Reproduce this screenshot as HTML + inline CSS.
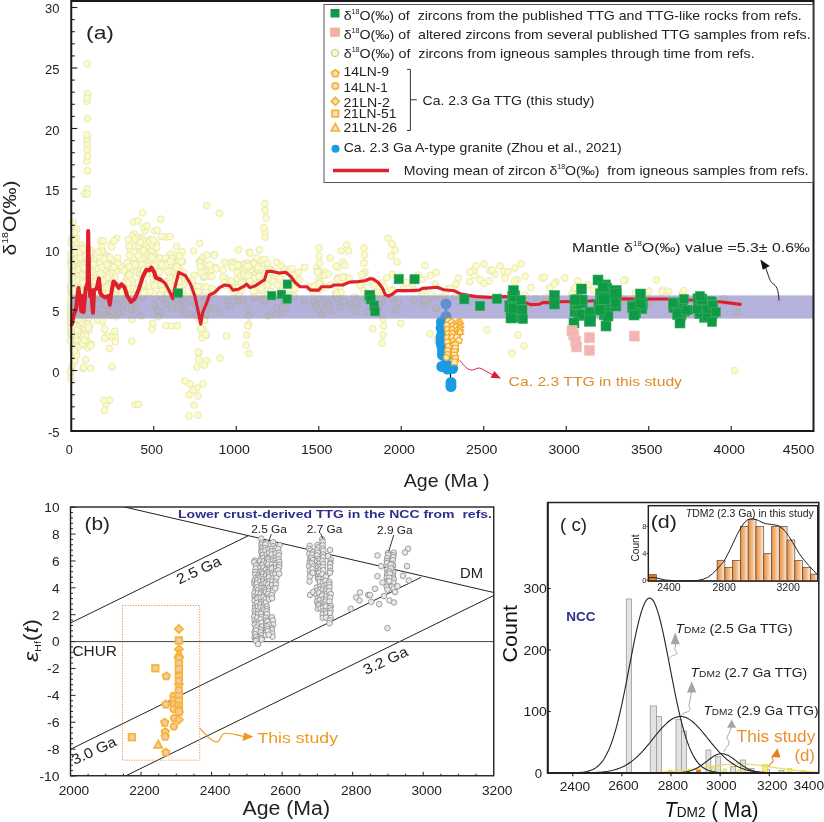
<!DOCTYPE html>
<html><head><meta charset="utf-8"><title>Figure</title>
<style>
html,body{margin:0;padding:0;background:#fff;}
body{width:824px;height:822px;overflow:hidden;font-family:"Liberation Sans", sans-serif;}
svg{display:block;font-family:"Liberation Sans", sans-serif;}
.mul{mix-blend-mode:multiply;}
</style></head><body>
<svg width="824" height="822" viewBox="0 0 824 822">
<rect width="824" height="822" fill="#fff"/>
<g fill="#fdfcc2" stroke="#dedeb8" stroke-width="0.7">
<circle cx="198.9" cy="352.7" r="3.4"/><circle cx="183.3" cy="284.7" r="3.4"/><circle cx="104.7" cy="270.1" r="3.4"/><circle cx="258.3" cy="271.4" r="3.4"/><circle cx="316.8" cy="268.2" r="3.4"/><circle cx="271.1" cy="269.5" r="3.4"/><circle cx="82.4" cy="299.1" r="3.4"/><circle cx="133.3" cy="222.1" r="3.4"/><circle cx="337.2" cy="278.3" r="3.4"/><circle cx="105.1" cy="277.6" r="3.4"/><circle cx="76.0" cy="260.9" r="3.4"/><circle cx="89.7" cy="297.7" r="3.4"/><circle cx="76.0" cy="269.7" r="3.4"/><circle cx="117.9" cy="270.4" r="3.4"/><circle cx="90.8" cy="313.6" r="3.4"/><circle cx="445.0" cy="293.2" r="3.4"/><circle cx="263.3" cy="284.7" r="3.4"/><circle cx="73.0" cy="254.6" r="3.4"/><circle cx="103.0" cy="291.2" r="3.4"/><circle cx="156.2" cy="243.5" r="3.4"/><circle cx="393.0" cy="289.7" r="3.4"/><circle cx="138.6" cy="247.8" r="3.4"/><circle cx="78.0" cy="290.3" r="3.4"/><circle cx="102.6" cy="321.6" r="3.4"/><circle cx="78.3" cy="304.6" r="3.4"/><circle cx="206.4" cy="305.9" r="3.4"/><circle cx="171.6" cy="295.8" r="3.4"/><circle cx="240.5" cy="279.7" r="3.4"/><circle cx="255.5" cy="264.7" r="3.4"/><circle cx="71.4" cy="264.4" r="3.4"/><circle cx="549.2" cy="298.0" r="3.4"/><circle cx="436.2" cy="308.8" r="3.4"/><circle cx="340.0" cy="277.8" r="3.4"/><circle cx="282.3" cy="306.9" r="3.4"/><circle cx="111.6" cy="281.6" r="3.4"/><circle cx="700.1" cy="296.4" r="3.4"/><circle cx="197.5" cy="317.2" r="3.4"/><circle cx="88.2" cy="310.9" r="3.4"/><circle cx="123.6" cy="304.0" r="3.4"/><circle cx="710.6" cy="300.7" r="3.4"/><circle cx="132.9" cy="282.2" r="3.4"/><circle cx="71.7" cy="238.8" r="3.4"/><circle cx="423.2" cy="305.1" r="3.4"/><circle cx="318.5" cy="280.0" r="3.4"/><circle cx="263.5" cy="263.5" r="3.4"/><circle cx="72.7" cy="303.3" r="3.4"/><circle cx="79.9" cy="316.6" r="3.4"/><circle cx="72.9" cy="332.1" r="3.4"/><circle cx="734.7" cy="370.5" r="3.4"/><circle cx="214.4" cy="254.6" r="3.4"/><circle cx="76.4" cy="299.3" r="3.4"/><circle cx="146.4" cy="263.6" r="3.4"/><circle cx="154.5" cy="304.6" r="3.4"/><circle cx="319.0" cy="256.0" r="3.4"/><circle cx="97.3" cy="297.0" r="3.4"/><circle cx="101.2" cy="254.1" r="3.4"/><circle cx="266.1" cy="271.0" r="3.4"/><circle cx="517.1" cy="279.6" r="3.4"/><circle cx="87.0" cy="101.2" r="3.4"/><circle cx="71.3" cy="262.9" r="3.4"/><circle cx="86.5" cy="278.4" r="3.4"/><circle cx="340.3" cy="286.3" r="3.4"/><circle cx="268.0" cy="316.1" r="3.4"/><circle cx="70.7" cy="333.3" r="3.4"/><circle cx="261.4" cy="278.6" r="3.4"/><circle cx="244.1" cy="276.0" r="3.4"/><circle cx="107.7" cy="263.8" r="3.4"/><circle cx="541.9" cy="278.1" r="3.4"/><circle cx="556.0" cy="282.0" r="3.4"/><circle cx="265.0" cy="232.2" r="3.4"/><circle cx="78.2" cy="321.5" r="3.4"/><circle cx="254.4" cy="261.8" r="3.4"/><circle cx="75.7" cy="277.8" r="3.4"/><circle cx="131.6" cy="305.0" r="3.4"/><circle cx="175.5" cy="273.4" r="3.4"/><circle cx="326.2" cy="305.6" r="3.4"/><circle cx="115.2" cy="337.3" r="3.4"/><circle cx="79.6" cy="283.3" r="3.4"/><circle cx="204.1" cy="273.4" r="3.4"/><circle cx="88.1" cy="257.9" r="3.4"/><circle cx="215.5" cy="267.5" r="3.4"/><circle cx="84.5" cy="291.5" r="3.4"/><circle cx="331.0" cy="310.5" r="3.4"/><circle cx="259.9" cy="277.9" r="3.4"/><circle cx="248.3" cy="276.3" r="3.4"/><circle cx="71.3" cy="286.8" r="3.4"/><circle cx="588.0" cy="284.8" r="3.4"/><circle cx="183.0" cy="304.1" r="3.4"/><circle cx="71.2" cy="290.0" r="3.4"/><circle cx="715.8" cy="303.9" r="3.4"/><circle cx="72.6" cy="279.6" r="3.4"/><circle cx="100.7" cy="240.7" r="3.4"/><circle cx="515.0" cy="268.0" r="3.4"/><circle cx="242.7" cy="284.1" r="3.4"/><circle cx="194.0" cy="275.3" r="3.4"/><circle cx="114.8" cy="277.2" r="3.4"/><circle cx="225.9" cy="278.6" r="3.4"/><circle cx="80.2" cy="324.9" r="3.4"/><circle cx="152.0" cy="329.0" r="3.4"/><circle cx="87.3" cy="138.0" r="3.4"/><circle cx="71.4" cy="315.1" r="3.4"/><circle cx="75.1" cy="318.2" r="3.4"/><circle cx="92.3" cy="285.9" r="3.4"/><circle cx="100.0" cy="260.2" r="3.4"/><circle cx="97.8" cy="295.9" r="3.4"/><circle cx="72.5" cy="275.7" r="3.4"/><circle cx="364.0" cy="282.0" r="3.4"/><circle cx="172.9" cy="277.8" r="3.4"/><circle cx="371.9" cy="298.1" r="3.4"/><circle cx="283.7" cy="268.3" r="3.4"/><circle cx="84.7" cy="285.9" r="3.4"/><circle cx="213.5" cy="308.2" r="3.4"/><circle cx="111.8" cy="279.7" r="3.4"/><circle cx="78.9" cy="275.8" r="3.4"/><circle cx="72.1" cy="307.7" r="3.4"/><circle cx="149.3" cy="258.9" r="3.4"/><circle cx="72.1" cy="342.7" r="3.4"/><circle cx="338.2" cy="267.5" r="3.4"/><circle cx="88.6" cy="290.3" r="3.4"/><circle cx="182.3" cy="309.6" r="3.4"/><circle cx="111.2" cy="311.7" r="3.4"/><circle cx="125.6" cy="281.2" r="3.4"/><circle cx="141.7" cy="237.5" r="3.4"/><circle cx="133.3" cy="270.4" r="3.4"/><circle cx="500.0" cy="266.0" r="3.4"/><circle cx="83.9" cy="297.5" r="3.4"/><circle cx="90.3" cy="270.2" r="3.4"/><circle cx="72.8" cy="313.6" r="3.4"/><circle cx="77.1" cy="300.2" r="3.4"/><circle cx="200.2" cy="318.1" r="3.4"/><circle cx="73.0" cy="322.6" r="3.4"/><circle cx="364.0" cy="263.0" r="3.4"/><circle cx="234.3" cy="286.9" r="3.4"/><circle cx="249.0" cy="353.5" r="3.4"/><circle cx="203.2" cy="266.3" r="3.4"/><circle cx="341.0" cy="251.0" r="3.4"/><circle cx="324.2" cy="272.1" r="3.4"/><circle cx="248.7" cy="316.0" r="3.4"/><circle cx="262.2" cy="290.2" r="3.4"/><circle cx="622.5" cy="299.1" r="3.4"/><circle cx="84.5" cy="194.0" r="3.4"/><circle cx="149.7" cy="239.5" r="3.4"/><circle cx="248.7" cy="324.0" r="3.4"/><circle cx="83.7" cy="303.6" r="3.4"/><circle cx="495.0" cy="274.1" r="3.4"/><circle cx="128.3" cy="267.8" r="3.4"/><circle cx="304.0" cy="301.0" r="3.4"/><circle cx="204.7" cy="302.9" r="3.4"/><circle cx="593.2" cy="290.4" r="3.4"/><circle cx="244.8" cy="284.5" r="3.4"/><circle cx="73.9" cy="278.1" r="3.4"/><circle cx="90.8" cy="285.8" r="3.4"/><circle cx="474.8" cy="275.6" r="3.4"/><circle cx="92.6" cy="270.7" r="3.4"/><circle cx="203.6" cy="329.5" r="3.4"/><circle cx="137.6" cy="264.7" r="3.4"/><circle cx="70.9" cy="329.2" r="3.4"/><circle cx="72.6" cy="241.0" r="3.4"/><circle cx="618.9" cy="301.0" r="3.4"/><circle cx="103.3" cy="284.0" r="3.4"/><circle cx="128.9" cy="298.1" r="3.4"/><circle cx="206.8" cy="205.8" r="3.4"/><circle cx="79.7" cy="275.9" r="3.4"/><circle cx="70.9" cy="291.2" r="3.4"/><circle cx="195.8" cy="286.1" r="3.4"/><circle cx="72.0" cy="330.1" r="3.4"/><circle cx="294.3" cy="296.9" r="3.4"/><circle cx="91.0" cy="250.5" r="3.4"/><circle cx="83.8" cy="304.8" r="3.4"/><circle cx="133.8" cy="233.6" r="3.4"/><circle cx="100.7" cy="262.6" r="3.4"/><circle cx="192.4" cy="280.3" r="3.4"/><circle cx="108.8" cy="272.8" r="3.4"/><circle cx="211.5" cy="269.7" r="3.4"/><circle cx="82.1" cy="309.7" r="3.4"/><circle cx="114.8" cy="331.2" r="3.4"/><circle cx="109.4" cy="288.3" r="3.4"/><circle cx="178.8" cy="260.2" r="3.4"/><circle cx="77.0" cy="294.8" r="3.4"/><circle cx="253.0" cy="277.1" r="3.4"/><circle cx="203.0" cy="384.0" r="3.4"/><circle cx="223.0" cy="270.1" r="3.4"/><circle cx="109.2" cy="288.1" r="3.4"/><circle cx="87.3" cy="188.8" r="3.4"/><circle cx="154.8" cy="230.9" r="3.4"/><circle cx="430.4" cy="275.3" r="3.4"/><circle cx="108.5" cy="310.2" r="3.4"/><circle cx="365.0" cy="272.0" r="3.4"/><circle cx="113.2" cy="284.3" r="3.4"/><circle cx="222.8" cy="277.4" r="3.4"/><circle cx="87.5" cy="322.9" r="3.4"/><circle cx="171.7" cy="308.8" r="3.4"/><circle cx="111.3" cy="269.3" r="3.4"/><circle cx="79.1" cy="277.3" r="3.4"/><circle cx="197.4" cy="291.4" r="3.4"/><circle cx="74.3" cy="249.5" r="3.4"/><circle cx="102.7" cy="271.0" r="3.4"/><circle cx="149.0" cy="268.8" r="3.4"/><circle cx="199.6" cy="243.4" r="3.4"/><circle cx="76.8" cy="258.7" r="3.4"/><circle cx="199.3" cy="290.7" r="3.4"/><circle cx="235.5" cy="281.0" r="3.4"/><circle cx="266.0" cy="218.0" r="3.4"/><circle cx="73.2" cy="320.4" r="3.4"/><circle cx="97.4" cy="291.7" r="3.4"/><circle cx="77.2" cy="347.0" r="3.4"/><circle cx="162.8" cy="286.0" r="3.4"/><circle cx="135.0" cy="265.4" r="3.4"/><circle cx="73.4" cy="326.4" r="3.4"/><circle cx="226.9" cy="300.7" r="3.4"/><circle cx="72.8" cy="287.8" r="3.4"/><circle cx="115.1" cy="302.0" r="3.4"/><circle cx="135.0" cy="295.2" r="3.4"/><circle cx="88.1" cy="295.3" r="3.4"/><circle cx="78.4" cy="320.5" r="3.4"/><circle cx="205.7" cy="335.3" r="3.4"/><circle cx="87.7" cy="296.7" r="3.4"/><circle cx="79.3" cy="302.7" r="3.4"/><circle cx="237.8" cy="266.3" r="3.4"/><circle cx="131.8" cy="319.3" r="3.4"/><circle cx="72.9" cy="274.4" r="3.4"/><circle cx="269.4" cy="278.2" r="3.4"/><circle cx="204.0" cy="295.5" r="3.4"/><circle cx="152.9" cy="265.3" r="3.4"/><circle cx="153.2" cy="293.1" r="3.4"/><circle cx="266.2" cy="298.2" r="3.4"/><circle cx="320.6" cy="284.5" r="3.4"/><circle cx="88.8" cy="330.3" r="3.4"/><circle cx="247.7" cy="326.0" r="3.4"/><circle cx="71.0" cy="260.7" r="3.4"/><circle cx="123.2" cy="311.5" r="3.4"/><circle cx="88.2" cy="287.4" r="3.4"/><circle cx="181.2" cy="260.6" r="3.4"/><circle cx="78.7" cy="344.3" r="3.4"/><circle cx="76.5" cy="329.0" r="3.4"/><circle cx="100.7" cy="288.2" r="3.4"/><circle cx="361.1" cy="286.2" r="3.4"/><circle cx="182.8" cy="301.4" r="3.4"/><circle cx="514.5" cy="281.3" r="3.4"/><circle cx="99.3" cy="282.5" r="3.4"/><circle cx="107.9" cy="256.1" r="3.4"/><circle cx="89.1" cy="275.5" r="3.4"/><circle cx="70.9" cy="317.0" r="3.4"/><circle cx="256.1" cy="272.6" r="3.4"/><circle cx="225.7" cy="285.7" r="3.4"/><circle cx="75.2" cy="318.4" r="3.4"/><circle cx="319.0" cy="248.0" r="3.4"/><circle cx="72.7" cy="278.2" r="3.4"/><circle cx="72.3" cy="296.2" r="3.4"/><circle cx="157.9" cy="276.1" r="3.4"/><circle cx="104.5" cy="329.0" r="3.4"/><circle cx="82.0" cy="301.5" r="3.4"/><circle cx="157.0" cy="230.1" r="3.4"/><circle cx="378.6" cy="311.2" r="3.4"/><circle cx="74.3" cy="338.6" r="3.4"/><circle cx="121.7" cy="268.2" r="3.4"/><circle cx="203.6" cy="277.3" r="3.4"/><circle cx="73.2" cy="310.3" r="3.4"/><circle cx="136.7" cy="272.5" r="3.4"/><circle cx="100.6" cy="297.6" r="3.4"/><circle cx="344.7" cy="276.9" r="3.4"/><circle cx="104.5" cy="410.5" r="3.4"/><circle cx="167.9" cy="283.0" r="3.4"/><circle cx="198.0" cy="352.2" r="3.4"/><circle cx="179.5" cy="268.1" r="3.4"/><circle cx="171.4" cy="283.3" r="3.4"/><circle cx="155.8" cy="256.7" r="3.4"/><circle cx="265.0" cy="210.7" r="3.4"/><circle cx="71.0" cy="292.7" r="3.4"/><circle cx="383.0" cy="335.0" r="3.4"/><circle cx="132.3" cy="236.2" r="3.4"/><circle cx="170.8" cy="286.1" r="3.4"/><circle cx="147.5" cy="268.6" r="3.4"/><circle cx="646.1" cy="296.3" r="3.4"/><circle cx="76.9" cy="250.7" r="3.4"/><circle cx="79.8" cy="332.2" r="3.4"/><circle cx="84.2" cy="291.3" r="3.4"/><circle cx="279.5" cy="313.5" r="3.4"/><circle cx="87.0" cy="141.2" r="3.4"/><circle cx="282.8" cy="300.5" r="3.4"/><circle cx="200.8" cy="320.4" r="3.4"/><circle cx="134.3" cy="246.0" r="3.4"/><circle cx="92.0" cy="304.8" r="3.4"/><circle cx="723.5" cy="298.5" r="3.4"/><circle cx="141.6" cy="274.4" r="3.4"/><circle cx="116.1" cy="271.1" r="3.4"/><circle cx="237.9" cy="264.6" r="3.4"/><circle cx="480.2" cy="279.8" r="3.4"/><circle cx="573.4" cy="289.6" r="3.4"/><circle cx="264.5" cy="300.6" r="3.4"/><circle cx="92.0" cy="288.6" r="3.4"/><circle cx="84.5" cy="332.0" r="3.4"/><circle cx="141.6" cy="291.5" r="3.4"/><circle cx="346.2" cy="281.3" r="3.4"/><circle cx="114.5" cy="293.6" r="3.4"/><circle cx="518.0" cy="335.0" r="3.4"/><circle cx="313.7" cy="301.4" r="3.4"/><circle cx="295.2" cy="275.0" r="3.4"/><circle cx="149.3" cy="253.8" r="3.4"/><circle cx="74.2" cy="311.6" r="3.4"/><circle cx="209.0" cy="276.4" r="3.4"/><circle cx="72.7" cy="340.2" r="3.4"/><circle cx="81.3" cy="260.0" r="3.4"/><circle cx="388.0" cy="238.5" r="3.4"/><circle cx="91.4" cy="305.8" r="3.4"/><circle cx="139.7" cy="253.2" r="3.4"/><circle cx="91.2" cy="262.8" r="3.4"/><circle cx="89.0" cy="275.5" r="3.4"/><circle cx="166.0" cy="237.0" r="3.4"/><circle cx="242.7" cy="300.7" r="3.4"/><circle cx="74.7" cy="346.6" r="3.4"/><circle cx="239.5" cy="280.4" r="3.4"/><circle cx="233.5" cy="262.2" r="3.4"/><circle cx="319.0" cy="299.0" r="3.4"/><circle cx="203.2" cy="276.5" r="3.4"/><circle cx="75.2" cy="315.7" r="3.4"/><circle cx="170.0" cy="236.5" r="3.4"/><circle cx="111.2" cy="272.4" r="3.4"/><circle cx="363.7" cy="274.0" r="3.4"/><circle cx="87.6" cy="93.8" r="3.4"/><circle cx="78.1" cy="341.0" r="3.4"/><circle cx="160.0" cy="258.1" r="3.4"/><circle cx="224.2" cy="282.7" r="3.4"/><circle cx="78.5" cy="320.9" r="3.4"/><circle cx="114.8" cy="300.5" r="3.4"/><circle cx="93.1" cy="295.8" r="3.4"/><circle cx="129.3" cy="289.6" r="3.4"/><circle cx="185.8" cy="313.2" r="3.4"/><circle cx="106.9" cy="295.1" r="3.4"/><circle cx="165.9" cy="303.9" r="3.4"/><circle cx="257.5" cy="279.5" r="3.4"/><circle cx="140.7" cy="262.6" r="3.4"/><circle cx="413.6" cy="300.4" r="3.4"/><circle cx="344.0" cy="300.8" r="3.4"/><circle cx="279.2" cy="277.6" r="3.4"/><circle cx="142.8" cy="282.3" r="3.4"/><circle cx="139.7" cy="273.9" r="3.4"/><circle cx="73.5" cy="264.3" r="3.4"/><circle cx="85.6" cy="275.5" r="3.4"/><circle cx="76.8" cy="320.4" r="3.4"/><circle cx="80.5" cy="324.5" r="3.4"/><circle cx="197.0" cy="289.8" r="3.4"/><circle cx="142.5" cy="255.5" r="3.4"/><circle cx="395.0" cy="250.0" r="3.4"/><circle cx="335.4" cy="297.5" r="3.4"/><circle cx="649.2" cy="302.8" r="3.4"/><circle cx="284.3" cy="303.8" r="3.4"/><circle cx="341.0" cy="292.6" r="3.4"/><circle cx="149.1" cy="266.6" r="3.4"/><circle cx="239.3" cy="287.3" r="3.4"/><circle cx="116.1" cy="263.9" r="3.4"/><circle cx="315.8" cy="305.9" r="3.4"/><circle cx="253.6" cy="277.7" r="3.4"/><circle cx="94.6" cy="288.8" r="3.4"/><circle cx="71.9" cy="305.4" r="3.4"/><circle cx="87.6" cy="118.8" r="3.4"/><circle cx="91.9" cy="281.9" r="3.4"/><circle cx="70.8" cy="316.9" r="3.4"/><circle cx="228.9" cy="305.6" r="3.4"/><circle cx="73.9" cy="313.5" r="3.4"/><circle cx="75.2" cy="334.5" r="3.4"/><circle cx="265.0" cy="203.7" r="3.4"/><circle cx="424.4" cy="300.2" r="3.4"/><circle cx="103.9" cy="254.6" r="3.4"/><circle cx="521.0" cy="263.7" r="3.4"/><circle cx="206.7" cy="265.4" r="3.4"/><circle cx="209.6" cy="264.9" r="3.4"/><circle cx="237.1" cy="300.6" r="3.4"/><circle cx="124.1" cy="270.4" r="3.4"/><circle cx="133.3" cy="288.8" r="3.4"/><circle cx="139.9" cy="282.0" r="3.4"/><circle cx="74.9" cy="360.7" r="3.4"/><circle cx="212.2" cy="290.7" r="3.4"/><circle cx="248.4" cy="276.5" r="3.4"/><circle cx="120.1" cy="265.8" r="3.4"/><circle cx="77.6" cy="295.2" r="3.4"/><circle cx="194.0" cy="405.0" r="3.4"/><circle cx="240.7" cy="279.9" r="3.4"/><circle cx="232.1" cy="289.0" r="3.4"/><circle cx="87.6" cy="347.9" r="3.4"/><circle cx="87.5" cy="145.0" r="3.4"/><circle cx="260.7" cy="260.4" r="3.4"/><circle cx="80.6" cy="292.5" r="3.4"/><circle cx="142.4" cy="264.1" r="3.4"/><circle cx="144.1" cy="291.4" r="3.4"/><circle cx="90.0" cy="279.5" r="3.4"/><circle cx="72.6" cy="256.6" r="3.4"/><circle cx="249.2" cy="252.2" r="3.4"/><circle cx="128.1" cy="263.8" r="3.4"/><circle cx="166.0" cy="325.7" r="3.4"/><circle cx="271.2" cy="291.6" r="3.4"/><circle cx="74.8" cy="304.9" r="3.4"/><circle cx="80.2" cy="316.6" r="3.4"/><circle cx="198.6" cy="310.0" r="3.4"/><circle cx="249.0" cy="283.2" r="3.4"/><circle cx="392.1" cy="299.1" r="3.4"/><circle cx="436.2" cy="272.7" r="3.4"/><circle cx="70.7" cy="311.0" r="3.4"/><circle cx="73.0" cy="222.5" r="3.4"/><circle cx="625.3" cy="279.9" r="3.4"/><circle cx="73.4" cy="344.8" r="3.4"/><circle cx="89.6" cy="314.2" r="3.4"/><circle cx="179.9" cy="262.1" r="3.4"/><circle cx="95.5" cy="295.5" r="3.4"/><circle cx="172.0" cy="326.0" r="3.4"/><circle cx="253.2" cy="274.4" r="3.4"/><circle cx="72.5" cy="269.1" r="3.4"/><circle cx="201.0" cy="328.6" r="3.4"/><circle cx="257.4" cy="286.0" r="3.4"/><circle cx="89.8" cy="325.4" r="3.4"/><circle cx="77.6" cy="280.2" r="3.4"/><circle cx="622.0" cy="302.5" r="3.4"/><circle cx="76.9" cy="313.6" r="3.4"/><circle cx="76.9" cy="257.2" r="3.4"/><circle cx="257.4" cy="266.1" r="3.4"/><circle cx="170.9" cy="285.3" r="3.4"/><circle cx="153.6" cy="261.4" r="3.4"/><circle cx="137.7" cy="260.0" r="3.4"/><circle cx="525.4" cy="300.3" r="3.4"/><circle cx="551.7" cy="300.4" r="3.4"/><circle cx="89.0" cy="317.6" r="3.4"/><circle cx="623.5" cy="280.9" r="3.4"/><circle cx="273.8" cy="275.6" r="3.4"/><circle cx="108.9" cy="263.6" r="3.4"/><circle cx="117.7" cy="312.3" r="3.4"/><circle cx="93.6" cy="310.9" r="3.4"/><circle cx="346.8" cy="244.9" r="3.4"/><circle cx="656.5" cy="279.9" r="3.4"/><circle cx="93.3" cy="259.9" r="3.4"/><circle cx="182.4" cy="251.9" r="3.4"/><circle cx="113.7" cy="283.0" r="3.4"/><circle cx="242.9" cy="278.4" r="3.4"/><circle cx="75.5" cy="301.4" r="3.4"/><circle cx="110.6" cy="287.5" r="3.4"/><circle cx="220.0" cy="358.0" r="3.4"/><circle cx="178.7" cy="274.5" r="3.4"/><circle cx="77.9" cy="307.7" r="3.4"/><circle cx="129.6" cy="297.2" r="3.4"/><circle cx="325.8" cy="300.5" r="3.4"/><circle cx="682.3" cy="293.0" r="3.4"/><circle cx="79.3" cy="313.4" r="3.4"/><circle cx="91.9" cy="313.1" r="3.4"/><circle cx="233.9" cy="292.6" r="3.4"/><circle cx="246.0" cy="345.0" r="3.4"/><circle cx="75.6" cy="267.2" r="3.4"/><circle cx="187.7" cy="281.1" r="3.4"/><circle cx="110.5" cy="267.3" r="3.4"/><circle cx="90.0" cy="306.8" r="3.4"/><circle cx="89.4" cy="303.4" r="3.4"/><circle cx="383.3" cy="295.0" r="3.4"/><circle cx="72.6" cy="329.5" r="3.4"/><circle cx="89.1" cy="291.3" r="3.4"/><circle cx="412.1" cy="284.5" r="3.4"/><circle cx="206.9" cy="360.8" r="3.4"/><circle cx="82.9" cy="259.4" r="3.4"/><circle cx="109.3" cy="348.5" r="3.4"/><circle cx="177.8" cy="281.7" r="3.4"/><circle cx="422.5" cy="279.4" r="3.4"/><circle cx="248.6" cy="309.7" r="3.4"/><circle cx="76.6" cy="294.9" r="3.4"/><circle cx="79.9" cy="273.0" r="3.4"/><circle cx="175.5" cy="302.6" r="3.4"/><circle cx="544.3" cy="277.1" r="3.4"/><circle cx="109.2" cy="304.8" r="3.4"/><circle cx="77.1" cy="311.0" r="3.4"/><circle cx="88.7" cy="278.8" r="3.4"/><circle cx="73.2" cy="277.8" r="3.4"/><circle cx="505.0" cy="278.0" r="3.4"/><circle cx="577.9" cy="281.0" r="3.4"/><circle cx="77.2" cy="277.9" r="3.4"/><circle cx="73.6" cy="300.0" r="3.4"/><circle cx="156.3" cy="270.8" r="3.4"/><circle cx="489.8" cy="270.6" r="3.4"/><circle cx="72.0" cy="305.7" r="3.4"/><circle cx="72.1" cy="308.7" r="3.4"/><circle cx="177.0" cy="280.7" r="3.4"/><circle cx="364.0" cy="291.0" r="3.4"/><circle cx="207.8" cy="309.2" r="3.4"/><circle cx="395.5" cy="309.2" r="3.4"/><circle cx="458.4" cy="278.2" r="3.4"/><circle cx="111.3" cy="244.2" r="3.4"/><circle cx="161.7" cy="297.5" r="3.4"/><circle cx="77.9" cy="272.3" r="3.4"/><circle cx="183.2" cy="284.6" r="3.4"/><circle cx="82.3" cy="297.6" r="3.4"/><circle cx="104.1" cy="270.2" r="3.4"/><circle cx="78.6" cy="317.2" r="3.4"/><circle cx="79.2" cy="325.3" r="3.4"/><circle cx="76.6" cy="309.5" r="3.4"/><circle cx="73.2" cy="323.3" r="3.4"/><circle cx="216.1" cy="269.0" r="3.4"/><circle cx="392.3" cy="274.4" r="3.4"/><circle cx="126.5" cy="287.8" r="3.4"/><circle cx="79.3" cy="272.0" r="3.4"/><circle cx="78.1" cy="306.5" r="3.4"/><circle cx="146.4" cy="263.5" r="3.4"/><circle cx="175.3" cy="255.3" r="3.4"/><circle cx="73.8" cy="309.8" r="3.4"/><circle cx="205.5" cy="316.7" r="3.4"/><circle cx="70.5" cy="285.6" r="3.4"/><circle cx="202.7" cy="257.7" r="3.4"/><circle cx="87.1" cy="63.8" r="3.4"/><circle cx="140.3" cy="283.2" r="3.4"/><circle cx="72.1" cy="296.1" r="3.4"/><circle cx="238.3" cy="283.9" r="3.4"/><circle cx="71.1" cy="302.3" r="3.4"/><circle cx="106.0" cy="404.0" r="3.4"/><circle cx="91.5" cy="306.6" r="3.4"/><circle cx="94.0" cy="290.6" r="3.4"/><circle cx="91.2" cy="291.2" r="3.4"/><circle cx="75.4" cy="283.7" r="3.4"/><circle cx="87.2" cy="193.8" r="3.4"/><circle cx="106.4" cy="278.2" r="3.4"/><circle cx="267.9" cy="281.0" r="3.4"/><circle cx="135.0" cy="265.8" r="3.4"/><circle cx="167.6" cy="286.0" r="3.4"/><circle cx="76.9" cy="323.5" r="3.4"/><circle cx="73.9" cy="325.7" r="3.4"/><circle cx="126.9" cy="262.7" r="3.4"/><circle cx="253.6" cy="267.4" r="3.4"/><circle cx="76.3" cy="355.1" r="3.4"/><circle cx="255.3" cy="282.2" r="3.4"/><circle cx="82.8" cy="258.3" r="3.4"/><circle cx="143.2" cy="280.6" r="3.4"/><circle cx="74.4" cy="320.3" r="3.4"/><circle cx="319.8" cy="282.4" r="3.4"/><circle cx="392.0" cy="244.0" r="3.4"/><circle cx="82.9" cy="327.6" r="3.4"/><circle cx="110.1" cy="257.6" r="3.4"/><circle cx="139.9" cy="259.2" r="3.4"/><circle cx="83.0" cy="303.8" r="3.4"/><circle cx="78.7" cy="298.6" r="3.4"/><circle cx="638.6" cy="296.6" r="3.4"/><circle cx="199.2" cy="292.1" r="3.4"/><circle cx="83.2" cy="306.6" r="3.4"/><circle cx="92.0" cy="287.3" r="3.4"/><circle cx="524.0" cy="346.0" r="3.4"/><circle cx="83.9" cy="293.5" r="3.4"/><circle cx="87.4" cy="343.3" r="3.4"/><circle cx="173.7" cy="271.2" r="3.4"/><circle cx="83.3" cy="368.5" r="3.4"/><circle cx="381.6" cy="300.9" r="3.4"/><circle cx="108.0" cy="295.6" r="3.4"/><circle cx="110.5" cy="301.5" r="3.4"/><circle cx="100.4" cy="257.6" r="3.4"/><circle cx="71.5" cy="323.4" r="3.4"/><circle cx="116.7" cy="238.4" r="3.4"/><circle cx="89.3" cy="310.8" r="3.4"/><circle cx="455.9" cy="284.3" r="3.4"/><circle cx="86.5" cy="340.1" r="3.4"/><circle cx="205.9" cy="314.7" r="3.4"/><circle cx="406.4" cy="282.6" r="3.4"/><circle cx="262.4" cy="282.1" r="3.4"/><circle cx="487.0" cy="330.0" r="3.4"/><circle cx="110.0" cy="400.0" r="3.4"/><circle cx="77.9" cy="296.1" r="3.4"/><circle cx="350.2" cy="304.4" r="3.4"/><circle cx="104.0" cy="400.5" r="3.4"/><circle cx="76.4" cy="238.2" r="3.4"/><circle cx="214.0" cy="292.9" r="3.4"/><circle cx="76.7" cy="229.2" r="3.4"/><circle cx="199.1" cy="297.1" r="3.4"/><circle cx="250.7" cy="268.3" r="3.4"/><circle cx="147.6" cy="272.0" r="3.4"/><circle cx="84.6" cy="344.9" r="3.4"/><circle cx="99.3" cy="301.7" r="3.4"/><circle cx="133.5" cy="262.1" r="3.4"/><circle cx="372.6" cy="328.8" r="3.4"/><circle cx="93.7" cy="301.6" r="3.4"/><circle cx="115.3" cy="341.8" r="3.4"/><circle cx="82.5" cy="300.9" r="3.4"/><circle cx="338.0" cy="279.3" r="3.4"/><circle cx="91.0" cy="255.5" r="3.4"/><circle cx="336.0" cy="266.0" r="3.4"/><circle cx="94.0" cy="310.8" r="3.4"/><circle cx="180.9" cy="305.9" r="3.4"/><circle cx="123.4" cy="296.1" r="3.4"/><circle cx="267.9" cy="285.1" r="3.4"/><circle cx="128.7" cy="295.1" r="3.4"/><circle cx="428.2" cy="301.4" r="3.4"/><circle cx="323.9" cy="286.6" r="3.4"/><circle cx="138.6" cy="282.5" r="3.4"/><circle cx="73.4" cy="354.8" r="3.4"/><circle cx="247.0" cy="335.0" r="3.4"/><circle cx="175.6" cy="291.7" r="3.4"/><circle cx="125.7" cy="288.1" r="3.4"/><circle cx="92.5" cy="301.3" r="3.4"/><circle cx="135.3" cy="262.7" r="3.4"/><circle cx="117.8" cy="257.9" r="3.4"/><circle cx="204.4" cy="365.1" r="3.4"/><circle cx="72.1" cy="313.9" r="3.4"/><circle cx="73.0" cy="309.6" r="3.4"/><circle cx="370.6" cy="279.8" r="3.4"/><circle cx="84.5" cy="291.6" r="3.4"/><circle cx="145.0" cy="230.8" r="3.4"/><circle cx="166.4" cy="281.9" r="3.4"/><circle cx="87.2" cy="150.0" r="3.4"/><circle cx="73.0" cy="317.7" r="3.4"/><circle cx="139.8" cy="260.9" r="3.4"/><circle cx="76.0" cy="247.8" r="3.4"/><circle cx="250.8" cy="269.8" r="3.4"/><circle cx="73.4" cy="328.3" r="3.4"/><circle cx="109.1" cy="275.2" r="3.4"/><circle cx="142.5" cy="262.6" r="3.4"/><circle cx="181.0" cy="275.7" r="3.4"/><circle cx="73.3" cy="242.4" r="3.4"/><circle cx="258.0" cy="278.8" r="3.4"/><circle cx="127.4" cy="289.6" r="3.4"/><circle cx="339.6" cy="307.3" r="3.4"/><circle cx="125.3" cy="298.8" r="3.4"/><circle cx="147.5" cy="245.5" r="3.4"/><circle cx="282.8" cy="273.5" r="3.4"/><circle cx="72.1" cy="291.1" r="3.4"/><circle cx="383.0" cy="319.0" r="3.4"/><circle cx="102.4" cy="294.5" r="3.4"/><circle cx="141.2" cy="274.5" r="3.4"/><circle cx="117.7" cy="263.5" r="3.4"/><circle cx="489.0" cy="281.0" r="3.4"/><circle cx="70.9" cy="328.6" r="3.4"/><circle cx="70.6" cy="315.0" r="3.4"/><circle cx="190.3" cy="314.5" r="3.4"/><circle cx="200.8" cy="286.7" r="3.4"/><circle cx="400.3" cy="276.2" r="3.4"/><circle cx="71.0" cy="310.0" r="3.4"/><circle cx="98.0" cy="299.5" r="3.4"/><circle cx="178.2" cy="279.2" r="3.4"/><circle cx="73.5" cy="312.7" r="3.4"/><circle cx="154.3" cy="284.5" r="3.4"/><circle cx="110.4" cy="286.3" r="3.4"/><circle cx="250.6" cy="265.6" r="3.4"/><circle cx="70.6" cy="327.3" r="3.4"/><circle cx="603.9" cy="289.3" r="3.4"/><circle cx="75.2" cy="323.6" r="3.4"/><circle cx="249.9" cy="253.1" r="3.4"/><circle cx="137.8" cy="237.3" r="3.4"/><circle cx="73.3" cy="254.3" r="3.4"/><circle cx="299.5" cy="279.8" r="3.4"/><circle cx="203.5" cy="319.2" r="3.4"/><circle cx="290.1" cy="269.5" r="3.4"/><circle cx="204.5" cy="275.7" r="3.4"/><circle cx="182.7" cy="261.7" r="3.4"/><circle cx="98.8" cy="302.6" r="3.4"/><circle cx="116.2" cy="316.6" r="3.4"/><circle cx="253.9" cy="298.3" r="3.4"/><circle cx="72.9" cy="336.0" r="3.4"/><circle cx="81.5" cy="244.8" r="3.4"/><circle cx="319.0" cy="290.0" r="3.4"/><circle cx="179.0" cy="286.4" r="3.4"/><circle cx="531.0" cy="287.4" r="3.4"/><circle cx="79.4" cy="283.4" r="3.4"/><circle cx="175.0" cy="268.2" r="3.4"/><circle cx="291.8" cy="280.3" r="3.4"/><circle cx="72.1" cy="290.1" r="3.4"/><circle cx="430.0" cy="334.0" r="3.4"/><circle cx="81.9" cy="294.7" r="3.4"/><circle cx="75.2" cy="242.0" r="3.4"/><circle cx="97.0" cy="273.2" r="3.4"/><circle cx="364.5" cy="255.0" r="3.4"/><circle cx="94.2" cy="278.3" r="3.4"/><circle cx="71.7" cy="258.7" r="3.4"/><circle cx="473.9" cy="270.0" r="3.4"/><circle cx="74.1" cy="300.6" r="3.4"/><circle cx="71.8" cy="271.6" r="3.4"/><circle cx="272.8" cy="281.1" r="3.4"/><circle cx="170.0" cy="272.2" r="3.4"/><circle cx="357.4" cy="305.5" r="3.4"/><circle cx="135.4" cy="239.0" r="3.4"/><circle cx="206.2" cy="287.0" r="3.4"/><circle cx="86.8" cy="323.8" r="3.4"/><circle cx="197.0" cy="388.0" r="3.4"/><circle cx="76.5" cy="287.2" r="3.4"/><circle cx="72.0" cy="366.0" r="3.4"/><circle cx="70.6" cy="287.6" r="3.4"/><circle cx="80.1" cy="283.2" r="3.4"/><circle cx="71.3" cy="302.2" r="3.4"/><circle cx="229.8" cy="283.8" r="3.4"/><circle cx="683.7" cy="290.6" r="3.4"/><circle cx="199.1" cy="309.0" r="3.4"/><circle cx="88.4" cy="327.7" r="3.4"/><circle cx="108.5" cy="287.8" r="3.4"/><circle cx="193.7" cy="295.6" r="3.4"/><circle cx="159.0" cy="262.7" r="3.4"/><circle cx="75.6" cy="314.7" r="3.4"/><circle cx="175.1" cy="278.3" r="3.4"/><circle cx="80.9" cy="285.7" r="3.4"/><circle cx="81.9" cy="252.5" r="3.4"/><circle cx="149.5" cy="241.3" r="3.4"/><circle cx="92.0" cy="286.2" r="3.4"/><circle cx="83.0" cy="302.6" r="3.4"/><circle cx="75.1" cy="294.4" r="3.4"/><circle cx="264.4" cy="274.8" r="3.4"/><circle cx="76.7" cy="272.0" r="3.4"/><circle cx="206.4" cy="335.5" r="3.4"/><circle cx="91.6" cy="280.3" r="3.4"/><circle cx="397.0" cy="262.0" r="3.4"/><circle cx="276.6" cy="308.1" r="3.4"/><circle cx="74.8" cy="360.4" r="3.4"/><circle cx="433.4" cy="296.0" r="3.4"/><circle cx="343.0" cy="262.0" r="3.4"/><circle cx="134.5" cy="257.3" r="3.4"/><circle cx="142.4" cy="255.7" r="3.4"/><circle cx="455.2" cy="296.4" r="3.4"/><circle cx="93.3" cy="269.5" r="3.4"/><circle cx="90.8" cy="368.2" r="3.4"/><circle cx="193.9" cy="303.0" r="3.4"/><circle cx="177.3" cy="277.4" r="3.4"/><circle cx="168.0" cy="293.4" r="3.4"/><circle cx="418.2" cy="275.1" r="3.4"/><circle cx="140.6" cy="259.1" r="3.4"/><circle cx="96.7" cy="300.9" r="3.4"/><circle cx="141.8" cy="297.5" r="3.4"/><circle cx="261.7" cy="287.8" r="3.4"/><circle cx="202.1" cy="332.2" r="3.4"/><circle cx="159.6" cy="285.5" r="3.4"/><circle cx="73.4" cy="342.6" r="3.4"/><circle cx="207.1" cy="255.0" r="3.4"/><circle cx="87.8" cy="296.4" r="3.4"/><circle cx="199.6" cy="261.4" r="3.4"/><circle cx="190.0" cy="384.0" r="3.4"/><circle cx="98.2" cy="290.9" r="3.4"/><circle cx="178.6" cy="281.7" r="3.4"/><circle cx="141.1" cy="316.0" r="3.4"/><circle cx="78.4" cy="283.7" r="3.4"/><circle cx="102.9" cy="311.4" r="3.4"/><circle cx="94.2" cy="295.7" r="3.4"/><circle cx="74.5" cy="291.8" r="3.4"/><circle cx="84.2" cy="263.8" r="3.4"/><circle cx="72.2" cy="316.5" r="3.4"/><circle cx="382.0" cy="343.0" r="3.4"/><circle cx="75.2" cy="343.8" r="3.4"/><circle cx="75.0" cy="311.9" r="3.4"/><circle cx="308.3" cy="287.1" r="3.4"/><circle cx="89.6" cy="296.5" r="3.4"/><circle cx="136.9" cy="289.9" r="3.4"/><circle cx="74.4" cy="313.2" r="3.4"/><circle cx="364.0" cy="248.0" r="3.4"/><circle cx="172.2" cy="275.1" r="3.4"/><circle cx="378.4" cy="287.4" r="3.4"/><circle cx="196.9" cy="367.0" r="3.4"/><circle cx="121.7" cy="288.3" r="3.4"/><circle cx="245.9" cy="269.4" r="3.4"/><circle cx="77.0" cy="295.0" r="3.4"/><circle cx="76.4" cy="276.5" r="3.4"/><circle cx="142.9" cy="275.0" r="3.4"/><circle cx="202.1" cy="267.7" r="3.4"/><circle cx="492.0" cy="270.0" r="3.4"/><circle cx="92.3" cy="262.9" r="3.4"/><circle cx="484.0" cy="283.3" r="3.4"/><circle cx="138.3" cy="255.5" r="3.4"/><circle cx="239.0" cy="276.3" r="3.4"/><circle cx="256.7" cy="281.9" r="3.4"/><circle cx="152.2" cy="256.5" r="3.4"/><circle cx="71.0" cy="263.8" r="3.4"/><circle cx="103.2" cy="251.9" r="3.4"/><circle cx="118.2" cy="289.2" r="3.4"/><circle cx="71.7" cy="285.3" r="3.4"/><circle cx="236.3" cy="280.4" r="3.4"/><circle cx="76.8" cy="259.3" r="3.4"/><circle cx="391.0" cy="290.4" r="3.4"/><circle cx="264.8" cy="259.4" r="3.4"/><circle cx="110.5" cy="291.4" r="3.4"/><circle cx="176.4" cy="277.4" r="3.4"/><circle cx="85.1" cy="308.3" r="3.4"/><circle cx="126.9" cy="302.5" r="3.4"/><circle cx="238.4" cy="249.7" r="3.4"/><circle cx="313.8" cy="286.4" r="3.4"/><circle cx="120.7" cy="299.8" r="3.4"/><circle cx="151.1" cy="252.0" r="3.4"/><circle cx="662.5" cy="290.0" r="3.4"/><circle cx="662.2" cy="292.1" r="3.4"/><circle cx="73.0" cy="282.1" r="3.4"/><circle cx="107.8" cy="285.8" r="3.4"/><circle cx="161.5" cy="236.5" r="3.4"/><circle cx="79.7" cy="324.6" r="3.4"/><circle cx="143.7" cy="227.3" r="3.4"/><circle cx="177.6" cy="307.4" r="3.4"/><circle cx="77.6" cy="272.4" r="3.4"/><circle cx="86.0" cy="301.1" r="3.4"/><circle cx="151.5" cy="243.2" r="3.4"/><circle cx="128.1" cy="239.8" r="3.4"/><circle cx="143.5" cy="250.7" r="3.4"/><circle cx="75.7" cy="307.6" r="3.4"/><circle cx="127.5" cy="276.8" r="3.4"/><circle cx="138.9" cy="265.3" r="3.4"/><circle cx="142.1" cy="264.7" r="3.4"/><circle cx="110.6" cy="336.6" r="3.4"/><circle cx="85.0" cy="256.5" r="3.4"/><circle cx="96.2" cy="290.9" r="3.4"/><circle cx="83.7" cy="284.4" r="3.4"/><circle cx="89.3" cy="284.3" r="3.4"/><circle cx="73.3" cy="289.2" r="3.4"/><circle cx="176.9" cy="298.7" r="3.4"/><circle cx="107.2" cy="277.7" r="3.4"/><circle cx="74.0" cy="319.4" r="3.4"/><circle cx="76.1" cy="305.4" r="3.4"/><circle cx="73.6" cy="273.6" r="3.4"/><circle cx="72.3" cy="309.4" r="3.4"/><circle cx="71.2" cy="304.7" r="3.4"/><circle cx="319.0" cy="271.0" r="3.4"/><circle cx="85.8" cy="279.1" r="3.4"/><circle cx="165.0" cy="266.7" r="3.4"/><circle cx="170.7" cy="253.9" r="3.4"/><circle cx="158.3" cy="316.7" r="3.4"/><circle cx="99.1" cy="303.1" r="3.4"/><circle cx="525.1" cy="295.5" r="3.4"/><circle cx="89.0" cy="298.0" r="3.4"/><circle cx="189.0" cy="395.0" r="3.4"/><circle cx="129.7" cy="266.5" r="3.4"/><circle cx="377.4" cy="292.5" r="3.4"/><circle cx="71.0" cy="322.8" r="3.4"/><circle cx="72.9" cy="315.4" r="3.4"/><circle cx="102.2" cy="278.7" r="3.4"/><circle cx="211.6" cy="276.5" r="3.4"/><circle cx="232.0" cy="282.2" r="3.4"/><circle cx="571.8" cy="294.1" r="3.4"/><circle cx="109.0" cy="292.4" r="3.4"/><circle cx="184.9" cy="304.0" r="3.4"/><circle cx="253.7" cy="275.4" r="3.4"/><circle cx="141.4" cy="290.7" r="3.4"/><circle cx="214.4" cy="255.1" r="3.4"/><circle cx="291.8" cy="268.7" r="3.4"/><circle cx="286.7" cy="296.1" r="3.4"/><circle cx="245.5" cy="276.3" r="3.4"/><circle cx="98.4" cy="292.8" r="3.4"/><circle cx="214.4" cy="290.8" r="3.4"/><circle cx="77.1" cy="306.8" r="3.4"/><circle cx="423.5" cy="290.5" r="3.4"/><circle cx="203.7" cy="271.4" r="3.4"/><circle cx="143.9" cy="269.7" r="3.4"/><circle cx="130.8" cy="279.5" r="3.4"/><circle cx="256.7" cy="283.6" r="3.4"/><circle cx="117.9" cy="313.7" r="3.4"/><circle cx="470.0" cy="272.0" r="3.4"/><circle cx="72.0" cy="341.2" r="3.4"/><circle cx="178.8" cy="261.7" r="3.4"/><circle cx="86.4" cy="303.1" r="3.4"/><circle cx="87.6" cy="264.1" r="3.4"/><circle cx="75.0" cy="272.6" r="3.4"/><circle cx="135.0" cy="404.5" r="3.4"/><circle cx="238.4" cy="282.1" r="3.4"/><circle cx="193.0" cy="390.0" r="3.4"/><circle cx="71.6" cy="277.0" r="3.4"/><circle cx="154.9" cy="259.3" r="3.4"/><circle cx="106.9" cy="336.2" r="3.4"/><circle cx="381.6" cy="302.1" r="3.4"/><circle cx="76.7" cy="274.9" r="3.4"/><circle cx="86.9" cy="161.2" r="3.4"/><circle cx="78.0" cy="269.3" r="3.4"/><circle cx="165.9" cy="258.1" r="3.4"/><circle cx="285.4" cy="308.4" r="3.4"/><circle cx="153.1" cy="240.0" r="3.4"/><circle cx="421.5" cy="295.6" r="3.4"/><circle cx="238.9" cy="295.3" r="3.4"/><circle cx="237.2" cy="283.0" r="3.4"/><circle cx="237.1" cy="278.6" r="3.4"/><circle cx="71.0" cy="307.7" r="3.4"/><circle cx="161.2" cy="312.1" r="3.4"/><circle cx="74.2" cy="284.5" r="3.4"/><circle cx="73.1" cy="267.2" r="3.4"/><circle cx="403.2" cy="289.1" r="3.4"/><circle cx="77.5" cy="293.5" r="3.4"/><circle cx="74.6" cy="343.0" r="3.4"/><circle cx="249.5" cy="285.2" r="3.4"/><circle cx="153.5" cy="253.5" r="3.4"/><circle cx="109.6" cy="266.4" r="3.4"/><circle cx="85.5" cy="289.7" r="3.4"/><circle cx="155.1" cy="271.7" r="3.4"/><circle cx="76.5" cy="315.5" r="3.4"/><circle cx="106.7" cy="264.5" r="3.4"/><circle cx="94.5" cy="287.3" r="3.4"/><circle cx="73.4" cy="346.3" r="3.4"/><circle cx="77.7" cy="347.5" r="3.4"/><circle cx="71.9" cy="281.6" r="3.4"/><circle cx="608.1" cy="299.9" r="3.4"/><circle cx="78.2" cy="309.2" r="3.4"/><circle cx="88.4" cy="291.4" r="3.4"/><circle cx="143.7" cy="284.4" r="3.4"/><circle cx="78.8" cy="326.9" r="3.4"/><circle cx="198.0" cy="396.0" r="3.4"/><circle cx="354.5" cy="296.9" r="3.4"/><circle cx="128.1" cy="288.1" r="3.4"/><circle cx="77.3" cy="319.9" r="3.4"/><circle cx="82.9" cy="315.9" r="3.4"/><circle cx="635.4" cy="292.8" r="3.4"/><circle cx="85.2" cy="299.1" r="3.4"/><circle cx="323.0" cy="275.4" r="3.4"/><circle cx="202.2" cy="338.0" r="3.4"/><circle cx="308.2" cy="286.6" r="3.4"/><circle cx="512.0" cy="353.0" r="3.4"/><circle cx="96.8" cy="288.3" r="3.4"/><circle cx="148.1" cy="259.7" r="3.4"/><circle cx="197.5" cy="314.5" r="3.4"/><circle cx="250.7" cy="276.8" r="3.4"/><circle cx="270.6" cy="314.9" r="3.4"/><circle cx="725.3" cy="302.0" r="3.4"/><circle cx="159.1" cy="281.6" r="3.4"/><circle cx="276.7" cy="262.2" r="3.4"/><circle cx="147.0" cy="226.0" r="3.4"/><circle cx="245.0" cy="265.5" r="3.4"/><circle cx="138.0" cy="221.0" r="3.4"/><circle cx="155.6" cy="280.8" r="3.4"/><circle cx="447.6" cy="289.3" r="3.4"/><circle cx="71.0" cy="370.9" r="3.4"/><circle cx="82.3" cy="247.5" r="3.4"/><circle cx="280.9" cy="265.5" r="3.4"/><circle cx="122.0" cy="289.9" r="3.4"/><circle cx="325.0" cy="275.1" r="3.4"/><circle cx="450.3" cy="288.3" r="3.4"/><circle cx="73.6" cy="291.6" r="3.4"/><circle cx="82.2" cy="288.8" r="3.4"/><circle cx="469.6" cy="281.8" r="3.4"/><circle cx="87.5" cy="271.5" r="3.4"/><circle cx="364.5" cy="300.0" r="3.4"/><circle cx="73.1" cy="285.2" r="3.4"/><circle cx="131.4" cy="305.7" r="3.4"/><circle cx="78.0" cy="304.8" r="3.4"/><circle cx="319.2" cy="283.9" r="3.4"/><circle cx="173.3" cy="269.7" r="3.4"/><circle cx="253.7" cy="263.8" r="3.4"/><circle cx="99.8" cy="281.2" r="3.4"/><circle cx="96.4" cy="294.3" r="3.4"/><circle cx="98.4" cy="280.0" r="3.4"/><circle cx="400.8" cy="323.4" r="3.4"/><circle cx="386.8" cy="277.6" r="3.4"/><circle cx="231.2" cy="281.3" r="3.4"/><circle cx="252.4" cy="279.6" r="3.4"/><circle cx="71.2" cy="284.3" r="3.4"/><circle cx="73.5" cy="322.7" r="3.4"/><circle cx="76.8" cy="280.0" r="3.4"/><circle cx="79.9" cy="317.9" r="3.4"/><circle cx="89.5" cy="276.8" r="3.4"/><circle cx="78.3" cy="291.9" r="3.4"/><circle cx="382.0" cy="283.1" r="3.4"/><circle cx="75.2" cy="299.1" r="3.4"/><circle cx="241.4" cy="273.3" r="3.4"/><circle cx="88.2" cy="284.6" r="3.4"/><circle cx="446.0" cy="301.7" r="3.4"/><circle cx="114.0" cy="297.3" r="3.4"/><circle cx="193.6" cy="251.0" r="3.4"/><circle cx="237.5" cy="272.7" r="3.4"/><circle cx="476.0" cy="266.0" r="3.4"/><circle cx="425.0" cy="265.4" r="3.4"/><circle cx="189.0" cy="416.0" r="3.4"/><circle cx="161.7" cy="292.3" r="3.4"/><circle cx="72.4" cy="308.4" r="3.4"/><circle cx="82.3" cy="274.3" r="3.4"/><circle cx="503.8" cy="271.3" r="3.4"/><circle cx="166.7" cy="281.7" r="3.4"/><circle cx="118.5" cy="297.6" r="3.4"/><circle cx="240.7" cy="276.1" r="3.4"/><circle cx="82.2" cy="291.4" r="3.4"/><circle cx="668.6" cy="291.4" r="3.4"/><circle cx="131.5" cy="309.8" r="3.4"/><circle cx="212.0" cy="288.5" r="3.4"/><circle cx="313.0" cy="292.0" r="3.4"/><circle cx="253.9" cy="278.2" r="3.4"/><circle cx="174.8" cy="292.8" r="3.4"/><circle cx="80.3" cy="278.9" r="3.4"/><circle cx="182.7" cy="291.5" r="3.4"/><circle cx="83.4" cy="307.4" r="3.4"/><circle cx="70.8" cy="285.1" r="3.4"/><circle cx="147.1" cy="273.2" r="3.4"/><circle cx="79.0" cy="277.2" r="3.4"/><circle cx="253.8" cy="291.8" r="3.4"/><circle cx="205.6" cy="334.9" r="3.4"/><circle cx="257.8" cy="267.2" r="3.4"/><circle cx="74.8" cy="295.5" r="3.4"/><circle cx="201.2" cy="272.3" r="3.4"/><circle cx="201.0" cy="328.7" r="3.4"/><circle cx="89.4" cy="255.3" r="3.4"/><circle cx="201.8" cy="317.1" r="3.4"/><circle cx="80.0" cy="302.7" r="3.4"/><circle cx="72.8" cy="298.0" r="3.4"/><circle cx="152.8" cy="323.4" r="3.4"/><circle cx="319.0" cy="310.0" r="3.4"/><circle cx="161.2" cy="284.9" r="3.4"/><circle cx="349.2" cy="278.2" r="3.4"/><circle cx="173.0" cy="280.9" r="3.4"/><circle cx="335.4" cy="291.9" r="3.4"/><circle cx="230.2" cy="263.2" r="3.4"/><circle cx="73.2" cy="316.4" r="3.4"/><circle cx="172.7" cy="271.9" r="3.4"/><circle cx="249.6" cy="281.3" r="3.4"/><circle cx="128.6" cy="274.9" r="3.4"/><circle cx="233.4" cy="264.6" r="3.4"/><circle cx="70.7" cy="305.2" r="3.4"/><circle cx="169.9" cy="277.6" r="3.4"/><circle cx="79.6" cy="249.5" r="3.4"/><circle cx="267.8" cy="269.0" r="3.4"/><circle cx="149.6" cy="286.7" r="3.4"/><circle cx="101.7" cy="246.6" r="3.4"/><circle cx="129.4" cy="274.9" r="3.4"/><circle cx="120.5" cy="285.1" r="3.4"/><circle cx="90.0" cy="267.1" r="3.4"/><circle cx="288.9" cy="295.6" r="3.4"/><circle cx="330.8" cy="284.6" r="3.4"/><circle cx="87.5" cy="156.2" r="3.4"/><circle cx="328.1" cy="303.5" r="3.4"/><circle cx="85.7" cy="335.7" r="3.4"/><circle cx="138.5" cy="404.5" r="3.4"/><circle cx="86.8" cy="134.5" r="3.4"/><circle cx="146.9" cy="241.9" r="3.4"/><circle cx="171.8" cy="257.8" r="3.4"/><circle cx="79.3" cy="323.3" r="3.4"/><circle cx="145.8" cy="293.1" r="3.4"/><circle cx="71.3" cy="243.7" r="3.4"/><circle cx="149.6" cy="270.1" r="3.4"/><circle cx="242.9" cy="265.7" r="3.4"/><circle cx="107.3" cy="303.7" r="3.4"/><circle cx="76.9" cy="280.7" r="3.4"/><circle cx="72.6" cy="348.8" r="3.4"/><circle cx="336.7" cy="294.5" r="3.4"/><circle cx="86.4" cy="309.6" r="3.4"/><circle cx="106.8" cy="287.5" r="3.4"/><circle cx="342.7" cy="277.2" r="3.4"/><circle cx="82.5" cy="324.3" r="3.4"/><circle cx="71.8" cy="305.2" r="3.4"/><circle cx="84.7" cy="290.6" r="3.4"/><circle cx="81.4" cy="298.3" r="3.4"/><circle cx="391.0" cy="256.0" r="3.4"/><circle cx="97.4" cy="319.9" r="3.4"/><circle cx="109.9" cy="299.9" r="3.4"/><circle cx="130.2" cy="249.2" r="3.4"/><circle cx="604.3" cy="285.4" r="3.4"/><circle cx="238.7" cy="287.5" r="3.4"/><circle cx="298.6" cy="272.1" r="3.4"/><circle cx="82.6" cy="266.1" r="3.4"/><circle cx="96.0" cy="283.8" r="3.4"/><circle cx="373.9" cy="285.6" r="3.4"/><circle cx="76.7" cy="355.1" r="3.4"/><circle cx="156.7" cy="247.5" r="3.4"/><circle cx="226.7" cy="336.0" r="3.4"/><circle cx="151.0" cy="251.5" r="3.4"/><circle cx="166.8" cy="264.1" r="3.4"/><circle cx="78.9" cy="314.6" r="3.4"/><circle cx="104.0" cy="313.6" r="3.4"/><circle cx="192.8" cy="289.7" r="3.4"/><circle cx="261.4" cy="299.5" r="3.4"/><circle cx="89.7" cy="252.5" r="3.4"/><circle cx="244.2" cy="263.6" r="3.4"/><circle cx="197.5" cy="286.5" r="3.4"/><circle cx="81.2" cy="335.1" r="3.4"/><circle cx="74.9" cy="254.3" r="3.4"/><circle cx="70.8" cy="305.3" r="3.4"/><circle cx="70.5" cy="306.3" r="3.4"/><circle cx="267.4" cy="263.5" r="3.4"/><circle cx="290.2" cy="289.2" r="3.4"/><circle cx="281.5" cy="285.8" r="3.4"/><circle cx="84.1" cy="268.0" r="3.4"/><circle cx="145.3" cy="257.4" r="3.4"/><circle cx="71.2" cy="317.5" r="3.4"/><circle cx="72.8" cy="308.9" r="3.4"/><circle cx="259.0" cy="275.4" r="3.4"/><circle cx="104.7" cy="338.3" r="3.4"/><circle cx="103.0" cy="280.6" r="3.4"/><circle cx="83.4" cy="280.3" r="3.4"/><circle cx="176.6" cy="296.1" r="3.4"/><circle cx="157.5" cy="263.9" r="3.4"/><circle cx="82.6" cy="249.4" r="3.4"/><circle cx="83.6" cy="284.0" r="3.4"/><circle cx="107.8" cy="304.8" r="3.4"/><circle cx="74.4" cy="350.4" r="3.4"/><circle cx="508.0" cy="272.0" r="3.4"/><circle cx="267.6" cy="294.4" r="3.4"/><circle cx="71.7" cy="314.4" r="3.4"/><circle cx="74.4" cy="306.5" r="3.4"/><circle cx="424.3" cy="299.8" r="3.4"/><circle cx="73.1" cy="326.7" r="3.4"/><circle cx="261.9" cy="281.2" r="3.4"/><circle cx="85.9" cy="359.8" r="3.4"/><circle cx="170.7" cy="271.3" r="3.4"/><circle cx="113.8" cy="267.4" r="3.4"/><circle cx="117.1" cy="309.0" r="3.4"/><circle cx="71.5" cy="287.9" r="3.4"/><circle cx="435.3" cy="284.0" r="3.4"/><circle cx="154.6" cy="285.6" r="3.4"/><circle cx="169.5" cy="290.0" r="3.4"/><circle cx="75.4" cy="319.0" r="3.4"/><circle cx="161.8" cy="264.8" r="3.4"/><circle cx="70.6" cy="321.9" r="3.4"/><circle cx="383.5" cy="326.0" r="3.4"/><circle cx="170.6" cy="261.5" r="3.4"/><circle cx="328.4" cy="273.6" r="3.4"/><circle cx="325.4" cy="287.4" r="3.4"/><circle cx="180.2" cy="274.7" r="3.4"/><circle cx="112.0" cy="367.0" r="3.4"/><circle cx="73.6" cy="319.1" r="3.4"/><circle cx="100.9" cy="313.5" r="3.4"/><circle cx="73.1" cy="281.5" r="3.4"/><circle cx="144.3" cy="243.5" r="3.4"/><circle cx="177.2" cy="266.1" r="3.4"/><circle cx="330.0" cy="258.0" r="3.4"/><circle cx="167.3" cy="288.8" r="3.4"/><circle cx="367.5" cy="311.5" r="3.4"/><circle cx="97.5" cy="303.9" r="3.4"/><circle cx="79.5" cy="298.5" r="3.4"/><circle cx="224.7" cy="262.5" r="3.4"/><circle cx="82.9" cy="275.7" r="3.4"/><circle cx="78.5" cy="305.2" r="3.4"/><circle cx="128.0" cy="283.1" r="3.4"/><circle cx="237.7" cy="265.2" r="3.4"/><circle cx="96.5" cy="314.0" r="3.4"/><circle cx="72.3" cy="269.0" r="3.4"/><circle cx="73.5" cy="330.7" r="3.4"/><circle cx="87.4" cy="170.8" r="3.4"/><circle cx="72.4" cy="317.2" r="3.4"/><circle cx="104.2" cy="259.1" r="3.4"/><circle cx="206.0" cy="297.8" r="3.4"/><circle cx="71.1" cy="297.7" r="3.4"/><circle cx="182.1" cy="274.2" r="3.4"/><circle cx="737.7" cy="312.0" r="3.4"/><circle cx="79.6" cy="327.4" r="3.4"/><circle cx="247.5" cy="262.8" r="3.4"/><circle cx="82.8" cy="343.9" r="3.4"/><circle cx="86.8" cy="310.6" r="3.4"/><circle cx="398.3" cy="302.8" r="3.4"/><circle cx="186.8" cy="296.1" r="3.4"/><circle cx="243.8" cy="275.0" r="3.4"/><circle cx="198.0" cy="415.0" r="3.4"/><circle cx="317.5" cy="271.8" r="3.4"/><circle cx="70.5" cy="372.0" r="3.4"/><circle cx="317.6" cy="272.2" r="3.4"/><circle cx="295.1" cy="283.5" r="3.4"/><circle cx="81.2" cy="322.1" r="3.4"/><circle cx="142.6" cy="212.7" r="3.4"/><circle cx="77.8" cy="334.0" r="3.4"/><circle cx="205.8" cy="308.8" r="3.4"/><circle cx="265.0" cy="237.0" r="3.4"/><circle cx="322.4" cy="314.2" r="3.4"/><circle cx="484.0" cy="264.0" r="3.4"/><circle cx="413.3" cy="289.6" r="3.4"/><circle cx="102.3" cy="274.7" r="3.4"/><circle cx="259.4" cy="249.9" r="3.4"/><circle cx="117.0" cy="305.2" r="3.4"/><circle cx="265.3" cy="300.3" r="3.4"/><circle cx="110.0" cy="315.6" r="3.4"/><circle cx="355.1" cy="310.9" r="3.4"/><circle cx="91.0" cy="344.0" r="3.4"/><circle cx="78.0" cy="319.2" r="3.4"/><circle cx="131.7" cy="341.0" r="3.4"/><circle cx="98.8" cy="268.5" r="3.4"/><circle cx="78.9" cy="252.5" r="3.4"/><circle cx="359.8" cy="284.9" r="3.4"/><circle cx="93.7" cy="311.9" r="3.4"/><circle cx="83.8" cy="297.5" r="3.4"/><circle cx="264.0" cy="227.5" r="3.4"/><circle cx="75.8" cy="339.1" r="3.4"/><circle cx="101.9" cy="267.3" r="3.4"/><circle cx="204.4" cy="320.5" r="3.4"/><circle cx="244.9" cy="268.6" r="3.4"/><circle cx="111.5" cy="311.9" r="3.4"/><circle cx="384.1" cy="286.6" r="3.4"/><circle cx="170.4" cy="283.3" r="3.4"/><circle cx="198.2" cy="291.5" r="3.4"/><circle cx="464.4" cy="296.6" r="3.4"/><circle cx="178.5" cy="294.6" r="3.4"/><circle cx="82.1" cy="302.3" r="3.4"/><circle cx="640.8" cy="303.2" r="3.4"/><circle cx="259.0" cy="295.6" r="3.4"/><circle cx="95.5" cy="289.9" r="3.4"/><circle cx="84.1" cy="340.1" r="3.4"/><circle cx="70.7" cy="340.1" r="3.4"/><circle cx="356.5" cy="302.9" r="3.4"/><circle cx="140.8" cy="239.4" r="3.4"/><circle cx="157.3" cy="310.5" r="3.4"/><circle cx="82.8" cy="308.9" r="3.4"/><circle cx="269.0" cy="269.7" r="3.4"/><circle cx="185.0" cy="381.0" r="3.4"/><circle cx="87.1" cy="98.0" r="3.4"/><circle cx="522.1" cy="300.7" r="3.4"/><circle cx="549.5" cy="287.6" r="3.4"/><circle cx="129.1" cy="246.2" r="3.4"/><circle cx="129.3" cy="255.2" r="3.4"/><circle cx="72.3" cy="324.4" r="3.4"/><circle cx="75.3" cy="311.1" r="3.4"/><circle cx="200.4" cy="261.2" r="3.4"/><circle cx="84.0" cy="307.5" r="3.4"/><circle cx="430.9" cy="294.7" r="3.4"/><circle cx="230.6" cy="306.4" r="3.4"/><circle cx="248.1" cy="275.3" r="3.4"/><circle cx="304.5" cy="267.3" r="3.4"/><circle cx="147.5" cy="254.9" r="3.4"/><circle cx="361.5" cy="274.8" r="3.4"/><circle cx="77.6" cy="327.0" r="3.4"/><circle cx="253.4" cy="296.9" r="3.4"/><circle cx="93.2" cy="264.4" r="3.4"/><circle cx="545.6" cy="297.7" r="3.4"/><circle cx="142.6" cy="241.0" r="3.4"/><circle cx="575.0" cy="287.2" r="3.4"/><circle cx="219.4" cy="213.2" r="3.4"/><circle cx="72.4" cy="335.3" r="3.4"/><circle cx="138.9" cy="245.7" r="3.4"/><circle cx="171.9" cy="286.5" r="3.4"/><circle cx="85.2" cy="296.4" r="3.4"/><circle cx="83.9" cy="304.7" r="3.4"/><circle cx="72.5" cy="274.6" r="3.4"/><circle cx="256.9" cy="257.9" r="3.4"/><circle cx="74.6" cy="301.2" r="3.4"/><circle cx="140.4" cy="242.6" r="3.4"/><circle cx="198.8" cy="359.1" r="3.4"/><circle cx="344.9" cy="265.4" r="3.4"/><circle cx="70.5" cy="340.7" r="3.4"/><circle cx="348.5" cy="251.0" r="3.4"/><circle cx="123.2" cy="286.5" r="3.4"/><circle cx="80.5" cy="301.3" r="3.4"/><circle cx="231.9" cy="267.4" r="3.4"/><circle cx="337.7" cy="298.8" r="3.4"/><circle cx="71.0" cy="320.9" r="3.4"/><circle cx="70.8" cy="302.6" r="3.4"/><circle cx="179.1" cy="281.2" r="3.4"/><circle cx="99.5" cy="277.1" r="3.4"/><circle cx="91.0" cy="345.6" r="3.4"/><circle cx="248.4" cy="265.3" r="3.4"/><circle cx="239.4" cy="295.3" r="3.4"/><circle cx="71.6" cy="323.7" r="3.4"/><circle cx="74.8" cy="291.6" r="3.4"/><circle cx="201.7" cy="311.3" r="3.4"/><circle cx="259.2" cy="276.6" r="3.4"/><circle cx="319.5" cy="263.0" r="3.4"/><circle cx="87.0" cy="297.4" r="3.4"/><circle cx="101.0" cy="273.8" r="3.4"/><circle cx="87.3" cy="284.1" r="3.4"/><circle cx="74.2" cy="232.6" r="3.4"/><circle cx="649.0" cy="291.1" r="3.4"/><circle cx="133.8" cy="296.0" r="3.4"/><circle cx="83.9" cy="290.8" r="3.4"/><circle cx="274.8" cy="272.7" r="3.4"/><circle cx="219.5" cy="312.3" r="3.4"/><circle cx="294.8" cy="289.2" r="3.4"/><circle cx="95.5" cy="281.4" r="3.4"/><circle cx="72.9" cy="271.3" r="3.4"/><circle cx="200.1" cy="263.3" r="3.4"/><circle cx="525.2" cy="276.3" r="3.4"/><circle cx="77.8" cy="288.7" r="3.4"/><circle cx="72.9" cy="316.7" r="3.4"/><circle cx="71.2" cy="323.0" r="3.4"/><circle cx="101.7" cy="251.2" r="3.4"/><circle cx="104.8" cy="304.5" r="3.4"/><circle cx="181.4" cy="261.5" r="3.4"/><circle cx="380.8" cy="298.2" r="3.4"/><circle cx="85.9" cy="276.1" r="3.4"/><circle cx="176.6" cy="246.5" r="3.4"/><circle cx="103.3" cy="240.9" r="3.4"/><circle cx="135.0" cy="264.8" r="3.4"/><circle cx="168.3" cy="271.7" r="3.4"/><circle cx="84.7" cy="293.9" r="3.4"/><circle cx="179.4" cy="256.0" r="3.4"/><circle cx="149.4" cy="292.2" r="3.4"/><circle cx="150.0" cy="256.6" r="3.4"/><circle cx="79.8" cy="291.1" r="3.4"/><circle cx="80.2" cy="258.0" r="3.4"/><circle cx="328.6" cy="304.9" r="3.4"/><circle cx="89.0" cy="313.2" r="3.4"/><circle cx="176.7" cy="267.0" r="3.4"/><circle cx="160.8" cy="219.2" r="3.4"/><circle cx="82.6" cy="280.6" r="3.4"/><circle cx="183.9" cy="272.9" r="3.4"/><circle cx="72.0" cy="278.2" r="3.4"/><circle cx="72.5" cy="294.0" r="3.4"/><circle cx="89.4" cy="291.1" r="3.4"/><circle cx="73.6" cy="290.7" r="3.4"/><circle cx="102.9" cy="310.5" r="3.4"/><circle cx="111.5" cy="247.0" r="3.4"/><circle cx="177.5" cy="325.7" r="3.4"/><circle cx="159.6" cy="272.1" r="3.4"/><circle cx="75.8" cy="300.0" r="3.4"/><circle cx="161.7" cy="291.1" r="3.4"/><circle cx="71.1" cy="302.0" r="3.4"/><circle cx="143.8" cy="292.2" r="3.4"/><circle cx="379.0" cy="304.6" r="3.4"/><circle cx="83.8" cy="367.2" r="3.4"/><circle cx="273.2" cy="294.3" r="3.4"/><circle cx="208.3" cy="297.0" r="3.4"/><circle cx="277.4" cy="285.0" r="3.4"/><circle cx="78.2" cy="298.6" r="3.4"/><circle cx="114.1" cy="240.9" r="3.4"/><circle cx="554.2" cy="284.0" r="3.4"/><circle cx="154.6" cy="265.9" r="3.4"/><circle cx="78.1" cy="307.6" r="3.4"/><circle cx="246.4" cy="266.5" r="3.4"/><circle cx="564.8" cy="278.0" r="3.4"/><circle cx="71.2" cy="265.3" r="3.4"/><circle cx="73.5" cy="325.4" r="3.4"/><circle cx="75.1" cy="334.7" r="3.4"/><circle cx="442.4" cy="297.2" r="3.4"/><circle cx="83.1" cy="282.6" r="3.4"/><circle cx="437.0" cy="340.0" r="3.4"/><circle cx="179.1" cy="292.3" r="3.4"/><circle cx="536.0" cy="298.9" r="3.4"/><circle cx="248.2" cy="266.0" r="3.4"/><circle cx="241.3" cy="290.4" r="3.4"/><circle cx="152.6" cy="278.9" r="3.4"/><circle cx="80.4" cy="298.4" r="3.4"/><circle cx="78.0" cy="300.8" r="3.4"/><circle cx="241.5" cy="283.4" r="3.4"/><circle cx="135.9" cy="307.1" r="3.4"/><circle cx="74.4" cy="252.7" r="3.4"/><circle cx="90.6" cy="271.9" r="3.4"/><circle cx="151.8" cy="257.5" r="3.4"/><circle cx="121.9" cy="292.5" r="3.4"/><circle cx="73.2" cy="239.1" r="3.4"/><circle cx="71.6" cy="333.8" r="3.4"/><circle cx="71.0" cy="378.0" r="3.4"/><circle cx="268.5" cy="278.2" r="3.4"/><circle cx="160.1" cy="295.1" r="3.4"/><circle cx="70.9" cy="254.1" r="3.4"/><circle cx="155.9" cy="277.4" r="3.4"/><circle cx="77.1" cy="330.3" r="3.4"/><circle cx="98.1" cy="252.0" r="3.4"/><circle cx="200.0" cy="266.9" r="3.4"/>
</g>
<path d="M446 304V320M450.5 369V385" stroke="#111" stroke-width="1.2"/>
<g fill="#1b9be4"><circle cx="446.0" cy="304.0" r="5.5"/><circle cx="446.0" cy="316.5" r="5.5"/><circle cx="441.4" cy="322.0" r="5.5"/><circle cx="446.8" cy="323.5" r="5.5"/><circle cx="442.4" cy="325.0" r="5.5"/><circle cx="446.3" cy="326.5" r="5.5"/><circle cx="441.1" cy="328.0" r="5.5"/><circle cx="444.5" cy="329.5" r="5.5"/><circle cx="442.8" cy="331.0" r="5.5"/><circle cx="444.6" cy="332.5" r="5.5"/><circle cx="442.1" cy="334.0" r="5.5"/><circle cx="445.3" cy="335.5" r="5.5"/><circle cx="441.1" cy="337.0" r="5.5"/><circle cx="446.0" cy="338.5" r="5.5"/><circle cx="441.1" cy="340.0" r="5.5"/><circle cx="446.7" cy="341.5" r="5.5"/><circle cx="441.1" cy="343.0" r="5.5"/><circle cx="445.4" cy="344.5" r="5.5"/><circle cx="441.8" cy="346.0" r="5.5"/><circle cx="446.1" cy="347.5" r="5.5"/><circle cx="442.9" cy="349.0" r="5.5"/><circle cx="446.0" cy="350.5" r="5.5"/><circle cx="442.6" cy="352.0" r="5.5"/><circle cx="445.7" cy="353.5" r="5.5"/><circle cx="442.5" cy="355.0" r="5.5"/><circle cx="445.7" cy="356.5" r="5.5"/><circle cx="441.8" cy="366.5" r="5.5"/><circle cx="445.0" cy="365.0" r="5.5"/><circle cx="447.3" cy="369.0" r="5.5"/><circle cx="452.6" cy="368.5" r="5.5"/><circle cx="450.0" cy="366.0" r="5.5"/><circle cx="451.0" cy="382.5" r="5.5"/><circle cx="451.0" cy="386.5" r="5.5"/></g>
<rect x="71.25" y="295.4" width="742" height="23.2" fill="rgb(205,205,238)" fill-opacity="0.55"/>
<rect x="71.25" y="295.4" width="742" height="23.2" fill="rgb(202,199,227)" style="mix-blend-mode:multiply"/>
<path d="M71.8 324.4L73.3 316.4L76.2 307.6L78.4 287.9L79.9 297.4L81.3 311.3L82.4 296.0L83.5 312.0L85.7 288.7L87.6 282.8L88.2 231.0L89.1 282.8L90.1 296.0L91.1 290.1L93.0 312.8L94.0 290.1L96.7 288.7L98.9 278.4L100.3 293.0L102.5 296.0L105.4 297.4L108.4 296.0L109.8 304.7L111.3 293.0L113.5 281.4L116.4 284.3L118.6 287.9L121.5 284.3L124.4 287.2L127.3 296.0L131.0 301.8L134.7 298.9L139.0 288.7L142.7 277.0L146.3 269.7L149.3 270.4L151.4 267.5L154.4 272.6L155.8 277.7L160.9 279.9L165.1 283.3L169.3 291.0L172.7 298.6L175.3 285.9L178.7 272.3L185.5 275.7L190.6 284.2L194.8 296.0L198.2 311.4L200.8 324.1L202.5 313.0L206.7 302.9L209.3 295.2L214.4 292.7L219.5 287.6L224.6 285.0L229.7 285.9L233.0 290.1L238.2 289.3L243.2 286.7L246.6 284.2L250.0 287.6L255.1 285.9L260.2 282.5L264.5 279.9L267.0 271.4L272.1 271.4L278.9 273.1L285.7 272.3L290.8 276.5L295.1 282.5L300.2 286.7L307.0 286.7L310.4 290.1L318.9 290.1L321.4 286.7L330.8 286.7L334.2 285.0L342.7 285.0L349.5 282.1L358.0 281.6L364.8 280.8L369.9 278.7L373.2 279.1L378.3 282.5L382.6 288.4L385.1 294.4L388.5 296.1L391.9 294.4L397.0 290.6L408.9 290.6L419.1 290.1L422.5 288.4L426.8 288.1L437.0 287.3L443.8 289.8L454.1 290.7L460.9 294.1L476.2 296.6L491.5 297.5L505.2 296.6L515.0 299.0L525.6 302.6L530.7 304.6L539.2 304.3L542.6 302.6L551.2 302.6L560.0 301.7L575.0 301.5L590.0 301.0L605.0 300.0L623.0 298.8L640.0 299.2L652.0 299.0L666.0 299.0L680.0 299.5L700.0 300.5L722.0 302.0L740.3 304.4" fill="none" stroke="#de202d" stroke-width="3.1" stroke-linejoin="round" stroke-linecap="round"/>
<path d="M71.8 324.4L73.3 316.4L76.2 307.6L78.4 287.9L79.9 297.4L81.3 311.3L82.4 296.0L83.5 312.0L85.7 288.7L87.6 282.8L88.2 231.0L89.1 282.8L90.1 296.0L91.1 290.1L93.0 312.8L94.0 290.1L96.7 288.7L98.9 278.4L100.3 293.0L102.5 296.0L105.4 297.4L108.4 296.0L109.8 304.7L111.3 293.0L113.5 281.4L116.4 284.3L118.6 287.9L121.5 284.3L124.4 287.2L127.3 296.0L131.0 301.8L134.7 298.9L139.0 288.7L142.7 277.0L146.3 269.7L149.3 270.4L151.4 267.5L154.4 272.6L155.8 277.7L160.9 279.9" fill="none" stroke="#de202d" stroke-width="4" stroke-linejoin="round" stroke-linecap="round"/>
<g fill="#0f9a48" stroke="#3fae5f" stroke-width="0.6"><rect x="174.1" y="288.8" width="8.5" height="8.5"/><rect x="267.4" y="291.4" width="8.5" height="8.5"/><rect x="277.2" y="290.1" width="8.5" height="8.5"/><rect x="283.1" y="279.9" width="8.5" height="8.5"/><rect x="282.9" y="294.8" width="8.5" height="8.5"/><rect x="364.8" y="290.2" width="10.0" height="10.0"/><rect x="366.2" y="295.0" width="9.0" height="9.0"/><rect x="369.6" y="300.9" width="9.0" height="9.0"/><rect x="370.5" y="306.9" width="9.0" height="9.0"/><rect x="394.1" y="274.5" width="9.3" height="9.3"/><rect x="409.9" y="274.5" width="9.3" height="9.3"/><rect x="459.6" y="294.5" width="9.4" height="9.4"/><rect x="475.3" y="301.3" width="9.4" height="9.4"/><rect x="492.3" y="294.1" width="9.4" height="9.4"/><rect x="549.5" y="290.5" width="10.0" height="10.0"/><rect x="549.5" y="299.0" width="10.0" height="10.0"/><rect x="506.4" y="306.8" width="9.8" height="9.8"/><rect x="504.8" y="300.7" width="11.0" height="11.0"/><rect x="508.4" y="294.0" width="10.0" height="10.0"/><rect x="508.1" y="312.4" width="10.3" height="10.3"/><rect x="508.4" y="303.9" width="10.6" height="10.6"/><rect x="507.7" y="291.2" width="11.0" height="11.0"/><rect x="508.5" y="307.5" width="11.1" height="11.1"/><rect x="506.0" y="303.9" width="10.4" height="10.4"/><rect x="508.7" y="303.1" width="11.3" height="11.3"/><rect x="509.1" y="290.9" width="10.7" height="10.7"/><rect x="508.5" y="285.5" width="10.0" height="10.0"/><rect x="506.0" y="313.0" width="10.0" height="10.0"/><rect x="517.0" y="305.0" width="10.0" height="10.0"/><rect x="516.5" y="295.5" width="9.0" height="9.0"/><rect x="518.5" y="314.5" width="9.0" height="9.0"/><rect x="571.4" y="304.8" width="10.9" height="10.9"/><rect x="570.7" y="300.1" width="11.4" height="11.4"/><rect x="570.0" y="305.6" width="11.0" height="11.0"/><rect x="573.9" y="310.2" width="10.1" height="10.1"/><rect x="570.9" y="299.2" width="10.5" height="10.5"/><rect x="576.1" y="309.7" width="10.2" height="10.2"/><rect x="572.3" y="299.7" width="9.4" height="9.4"/><rect x="573.0" y="295.5" width="10.0" height="10.0"/><rect x="572.5" y="294.7" width="9.8" height="9.8"/><rect x="575.9" y="296.8" width="11.2" height="11.2"/><rect x="576.5" y="284.0" width="10.0" height="10.0"/><rect x="577.0" y="295.0" width="10.0" height="10.0"/><rect x="569.0" y="318.0" width="10.0" height="10.0"/><rect x="570.0" y="295.0" width="10.0" height="10.0"/><rect x="585.2" y="311.7" width="9.6" height="9.6"/><rect x="585.0" y="312.6" width="9.9" height="9.9"/><rect x="585.1" y="309.8" width="9.8" height="9.8"/><rect x="585.1" y="307.1" width="9.9" height="9.9"/><rect x="584.3" y="314.9" width="11.4" height="11.4"/><rect x="595.8" y="289.0" width="11.2" height="11.2"/><rect x="600.4" y="297.6" width="11.1" height="11.1"/><rect x="603.2" y="292.2" width="9.0" height="9.0"/><rect x="601.8" y="283.3" width="9.6" height="9.6"/><rect x="598.4" y="299.3" width="10.8" height="10.8"/><rect x="599.5" y="309.1" width="10.8" height="10.8"/><rect x="601.0" y="300.3" width="9.3" height="9.3"/><rect x="600.6" y="287.6" width="10.0" height="10.0"/><rect x="598.5" y="290.1" width="9.7" height="9.7"/><rect x="595.9" y="288.8" width="10.8" height="10.8"/><rect x="599.5" y="307.6" width="11.0" height="11.0"/><rect x="593.9" y="299.5" width="10.2" height="10.2"/><rect x="599.4" y="279.9" width="11.2" height="11.2"/><rect x="602.0" y="283.6" width="9.9" height="9.9"/><rect x="596.7" y="295.7" width="9.4" height="9.4"/><rect x="598.5" y="293.1" width="11.4" height="11.4"/><rect x="593.0" y="275.0" width="10.0" height="10.0"/><rect x="598.0" y="282.0" width="10.0" height="10.0"/><rect x="601.0" y="321.0" width="10.0" height="10.0"/><rect x="603.0" y="311.0" width="10.0" height="10.0"/><rect x="595.0" y="305.0" width="10.0" height="10.0"/><rect x="609.9" y="285.4" width="11.3" height="11.3"/><rect x="609.9" y="288.2" width="11.3" height="11.3"/><rect x="610.9" y="301.2" width="9.4" height="9.4"/><rect x="610.3" y="300.4" width="10.6" height="10.6"/><rect x="611.0" y="298.1" width="9.1" height="9.1"/><rect x="633.1" y="299.7" width="9.2" height="9.2"/><rect x="636.4" y="303.4" width="10.2" height="10.2"/><rect x="636.1" y="297.9" width="11.3" height="11.3"/><rect x="630.5" y="306.9" width="10.2" height="10.2"/><rect x="627.3" y="301.0" width="11.2" height="11.2"/><rect x="629.8" y="307.0" width="9.2" height="9.2"/><rect x="630.1" y="301.0" width="10.7" height="10.7"/><rect x="635.4" y="301.9" width="11.4" height="11.4"/><rect x="634.5" y="298.1" width="10.7" height="10.7"/><rect x="630.0" y="307.9" width="10.2" height="10.2"/><rect x="635.5" y="289.0" width="10.0" height="10.0"/><rect x="629.0" y="310.0" width="10.0" height="10.0"/><rect x="628.0" y="302.0" width="8.0" height="8.0"/><rect x="675.6" y="310.8" width="10.0" height="10.0"/><rect x="676.4" y="301.9" width="9.8" height="9.8"/><rect x="678.0" y="303.9" width="9.3" height="9.3"/><rect x="679.0" y="305.8" width="10.3" height="10.3"/><rect x="672.5" y="297.9" width="11.2" height="11.2"/><rect x="668.7" y="300.3" width="10.3" height="10.3"/><rect x="676.1" y="309.6" width="10.0" height="10.0"/><rect x="668.9" y="301.9" width="10.8" height="10.8"/><rect x="672.4" y="308.4" width="11.1" height="11.1"/><rect x="679.5" y="294.5" width="9.0" height="9.0"/><rect x="675.0" y="318.0" width="10.0" height="10.0"/><rect x="668.5" y="298.5" width="9.0" height="9.0"/><rect x="683.5" y="305.5" width="9.0" height="9.0"/><rect x="694.7" y="303.9" width="8.0" height="8.0"/><rect x="701.7" y="308.8" width="8.8" height="8.8"/><rect x="702.1" y="300.8" width="10.5" height="10.5"/><rect x="708.3" y="312.8" width="8.2" height="8.2"/><rect x="702.3" y="310.9" width="10.1" height="10.1"/><rect x="705.1" y="313.8" width="8.4" height="8.4"/><rect x="694.7" y="308.8" width="9.9" height="9.9"/><rect x="693.6" y="301.9" width="10.1" height="10.1"/><rect x="706.2" y="311.6" width="9.0" height="9.0"/><rect x="700.4" y="300.5" width="10.2" height="10.2"/><rect x="704.4" y="296.6" width="9.8" height="9.8"/><rect x="699.6" y="313.6" width="8.7" height="8.7"/><rect x="695.2" y="307.7" width="10.3" height="10.3"/><rect x="693.0" y="293.8" width="9.4" height="9.4"/><rect x="696.5" y="303.3" width="8.5" height="8.5"/><rect x="704.8" y="310.1" width="9.7" height="9.7"/><rect x="707.6" y="297.0" width="8.6" height="8.6"/><rect x="707.6" y="299.4" width="8.3" height="8.3"/><rect x="696.4" y="294.0" width="10.4" height="10.4"/><rect x="708.9" y="302.1" width="8.7" height="8.7"/><rect x="703.7" y="312.4" width="9.0" height="9.0"/><rect x="707.7" y="308.5" width="9.9" height="9.9"/><rect x="702.6" y="304.4" width="9.5" height="9.5"/><rect x="708.3" y="300.5" width="8.9" height="8.9"/><rect x="702.6" y="313.1" width="8.2" height="8.2"/><rect x="692.8" y="305.2" width="8.3" height="8.3"/><rect x="681.5" y="305.5" width="9.0" height="9.0"/><rect x="695.5" y="291.5" width="9.0" height="9.0"/><rect x="707.5" y="317.5" width="9.0" height="9.0"/><rect x="711.5" y="307.5" width="9.0" height="9.0"/></g>
<g fill="#f4b3b5" stroke="#eec9b0" stroke-width="0.7"><rect x="567.0" y="325.7" width="10" height="10"/><rect x="568.8" y="330.0" width="10" height="10"/><rect x="570.5" y="336.0" width="10" height="10"/><rect x="571.4" y="341.9" width="10" height="10"/><rect x="584.5" y="332.8" width="10" height="10"/><rect x="584.5" y="345.3" width="10" height="10"/><rect x="629.3" y="331.1" width="10" height="10"/></g>
<circle cx="448.4" cy="321.0" r="2.9" fill="#fdeacb" stroke="#f4ab25" stroke-width="1.25"/>
<circle cx="446.9" cy="325.2" r="2.9" fill="#fdeacb" stroke="#f4ab25" stroke-width="1.25"/>
<circle cx="447.4" cy="329.4" r="2.9" fill="#fdeacb" stroke="#f4ab25" stroke-width="1.25"/>
<circle cx="448.0" cy="333.6" r="2.9" fill="#fdeacb" stroke="#f4ab25" stroke-width="1.25"/>
<circle cx="447.4" cy="337.8" r="2.9" fill="#fdeacb" stroke="#f4ab25" stroke-width="1.25"/>
<circle cx="447.5" cy="342.0" r="2.9" fill="#fdeacb" stroke="#f4ab25" stroke-width="1.25"/>
<circle cx="448.5" cy="346.2" r="2.9" fill="#fdeacb" stroke="#f4ab25" stroke-width="1.25"/>
<circle cx="447.7" cy="350.4" r="2.9" fill="#fdeacb" stroke="#f4ab25" stroke-width="1.25"/>
<circle cx="447.7" cy="354.6" r="2.9" fill="#fdeacb" stroke="#f4ab25" stroke-width="1.25"/>
<path d="M451.6 318.4L455.2 322.0L451.6 325.6L447.9 322.0Z" fill="#fdeacb" stroke="#f4ab25" stroke-width="1.25"/>
<path d="M452.6 322.2L456.2 325.8L452.6 329.4L449.0 325.8Z" fill="#fdeacb" stroke="#f4ab25" stroke-width="1.25"/>
<path d="M452.4 326.0L456.1 329.6L452.4 333.2L448.8 329.6Z" fill="#fdeacb" stroke="#f4ab25" stroke-width="1.25"/>
<path d="M452.5 329.8L456.1 333.4L452.5 337.0L448.8 333.4Z" fill="#fdeacb" stroke="#f4ab25" stroke-width="1.25"/>
<path d="M452.1 333.6L455.7 337.2L452.1 340.8L448.5 337.2Z" fill="#fdeacb" stroke="#f4ab25" stroke-width="1.25"/>
<path d="M453.4 337.4L457.0 341.0L453.4 344.6L449.7 341.0Z" fill="#fdeacb" stroke="#f4ab25" stroke-width="1.25"/>
<path d="M453.4 341.2L457.1 344.8L453.4 348.4L449.8 344.8Z" fill="#fdeacb" stroke="#f4ab25" stroke-width="1.25"/>
<path d="M457.6 319.5L460.9 321.9L459.6 325.8L455.5 325.8L454.3 321.9Z" fill="#fdeacb" stroke="#f4ab25" stroke-width="1.25"/>
<path d="M456.7 323.0L460.0 325.4L458.7 329.3L454.6 329.3L453.4 325.4Z" fill="#fdeacb" stroke="#f4ab25" stroke-width="1.25"/>
<path d="M457.7 326.5L461.0 328.9L459.7 332.8L455.6 332.8L454.4 328.9Z" fill="#fdeacb" stroke="#f4ab25" stroke-width="1.25"/>
<path d="M458.5 330.0L461.8 332.4L460.5 336.3L456.4 336.3L455.2 332.4Z" fill="#fdeacb" stroke="#f4ab25" stroke-width="1.25"/>
<path d="M456.8 333.5L460.2 335.9L458.9 339.8L454.8 339.8L453.5 335.9Z" fill="#fdeacb" stroke="#f4ab25" stroke-width="1.25"/>
<path d="M458.9 337.0L462.2 339.4L461.0 343.3L456.9 343.3L455.6 339.4Z" fill="#fdeacb" stroke="#f4ab25" stroke-width="1.25"/>
<path d="M460.0 317.4L463.6 323.9L456.4 323.9Z" fill="#fdeacb" stroke="#f4ab25" stroke-width="1.25"/>
<path d="M460.0 320.9L463.6 327.4L456.4 327.4Z" fill="#fdeacb" stroke="#f4ab25" stroke-width="1.25"/>
<path d="M460.0 324.4L463.6 330.9L456.4 330.9Z" fill="#fdeacb" stroke="#f4ab25" stroke-width="1.25"/>
<path d="M460.0 327.9L463.6 334.4L456.4 334.4Z" fill="#fdeacb" stroke="#f4ab25" stroke-width="1.25"/>
<rect x="452.3" y="342.1" width="5.8" height="5.8" fill="#fdeacb" stroke="#f4ab25" stroke-width="1.25"/>
<rect x="452.5" y="345.5" width="5.8" height="5.8" fill="#fdeacb" stroke="#f4ab25" stroke-width="1.25"/>
<rect x="451.5" y="348.9" width="5.8" height="5.8" fill="#fdeacb" stroke="#f4ab25" stroke-width="1.25"/>
<rect x="451.4" y="352.3" width="5.8" height="5.8" fill="#fdeacb" stroke="#f4ab25" stroke-width="1.25"/>
<rect x="452.7" y="355.7" width="5.8" height="5.8" fill="#fdeacb" stroke="#f4ab25" stroke-width="1.25"/>
<rect x="451.6" y="359.1" width="5.8" height="5.8" fill="#fdeacb" stroke="#f4ab25" stroke-width="1.25"/>
<circle cx="446.5" cy="357.5" r="2.9" fill="#fdeacb" stroke="#f4ab25" stroke-width="1.25"/>
<rect x="71.25" y="1" width="742.25" height="430" fill="none" stroke="#1a1a1a" stroke-width="2"/>
<line x1="71.25" y1="431.00" x2="77.25" y2="431.00" stroke="#1a1a1a" stroke-width="1.1"/>
<line x1="71.25" y1="418.90" x2="74.75" y2="418.90" stroke="#1a1a1a" stroke-width="1.1"/>
<line x1="71.25" y1="406.80" x2="74.75" y2="406.80" stroke="#1a1a1a" stroke-width="1.1"/>
<line x1="71.25" y1="394.70" x2="74.75" y2="394.70" stroke="#1a1a1a" stroke-width="1.1"/>
<line x1="71.25" y1="382.60" x2="74.75" y2="382.60" stroke="#1a1a1a" stroke-width="1.1"/>
<line x1="71.25" y1="370.50" x2="77.25" y2="370.50" stroke="#1a1a1a" stroke-width="1.1"/>
<line x1="71.25" y1="358.40" x2="74.75" y2="358.40" stroke="#1a1a1a" stroke-width="1.1"/>
<line x1="71.25" y1="346.30" x2="74.75" y2="346.30" stroke="#1a1a1a" stroke-width="1.1"/>
<line x1="71.25" y1="334.20" x2="74.75" y2="334.20" stroke="#1a1a1a" stroke-width="1.1"/>
<line x1="71.25" y1="322.10" x2="74.75" y2="322.10" stroke="#1a1a1a" stroke-width="1.1"/>
<line x1="71.25" y1="310.00" x2="77.25" y2="310.00" stroke="#1a1a1a" stroke-width="1.1"/>
<line x1="71.25" y1="297.90" x2="74.75" y2="297.90" stroke="#1a1a1a" stroke-width="1.1"/>
<line x1="71.25" y1="285.80" x2="74.75" y2="285.80" stroke="#1a1a1a" stroke-width="1.1"/>
<line x1="71.25" y1="273.70" x2="74.75" y2="273.70" stroke="#1a1a1a" stroke-width="1.1"/>
<line x1="71.25" y1="261.60" x2="74.75" y2="261.60" stroke="#1a1a1a" stroke-width="1.1"/>
<line x1="71.25" y1="249.50" x2="77.25" y2="249.50" stroke="#1a1a1a" stroke-width="1.1"/>
<line x1="71.25" y1="237.40" x2="74.75" y2="237.40" stroke="#1a1a1a" stroke-width="1.1"/>
<line x1="71.25" y1="225.30" x2="74.75" y2="225.30" stroke="#1a1a1a" stroke-width="1.1"/>
<line x1="71.25" y1="213.20" x2="74.75" y2="213.20" stroke="#1a1a1a" stroke-width="1.1"/>
<line x1="71.25" y1="201.10" x2="74.75" y2="201.10" stroke="#1a1a1a" stroke-width="1.1"/>
<line x1="71.25" y1="189.00" x2="77.25" y2="189.00" stroke="#1a1a1a" stroke-width="1.1"/>
<line x1="71.25" y1="176.90" x2="74.75" y2="176.90" stroke="#1a1a1a" stroke-width="1.1"/>
<line x1="71.25" y1="164.80" x2="74.75" y2="164.80" stroke="#1a1a1a" stroke-width="1.1"/>
<line x1="71.25" y1="152.70" x2="74.75" y2="152.70" stroke="#1a1a1a" stroke-width="1.1"/>
<line x1="71.25" y1="140.60" x2="74.75" y2="140.60" stroke="#1a1a1a" stroke-width="1.1"/>
<line x1="71.25" y1="128.50" x2="77.25" y2="128.50" stroke="#1a1a1a" stroke-width="1.1"/>
<line x1="71.25" y1="116.40" x2="74.75" y2="116.40" stroke="#1a1a1a" stroke-width="1.1"/>
<line x1="71.25" y1="104.30" x2="74.75" y2="104.30" stroke="#1a1a1a" stroke-width="1.1"/>
<line x1="71.25" y1="92.20" x2="74.75" y2="92.20" stroke="#1a1a1a" stroke-width="1.1"/>
<line x1="71.25" y1="80.10" x2="74.75" y2="80.10" stroke="#1a1a1a" stroke-width="1.1"/>
<line x1="71.25" y1="68.00" x2="77.25" y2="68.00" stroke="#1a1a1a" stroke-width="1.1"/>
<line x1="71.25" y1="55.90" x2="74.75" y2="55.90" stroke="#1a1a1a" stroke-width="1.1"/>
<line x1="71.25" y1="43.80" x2="74.75" y2="43.80" stroke="#1a1a1a" stroke-width="1.1"/>
<line x1="71.25" y1="31.70" x2="74.75" y2="31.70" stroke="#1a1a1a" stroke-width="1.1"/>
<line x1="71.25" y1="19.60" x2="74.75" y2="19.60" stroke="#1a1a1a" stroke-width="1.1"/>
<line x1="71.25" y1="7.50" x2="77.25" y2="7.50" stroke="#1a1a1a" stroke-width="1.1"/>
<text x="59.5" y="437.0" font-size="13" text-anchor="end" fill="#222" >-5</text>
<text x="59.5" y="376.5" font-size="13" text-anchor="end" fill="#222" >0</text>
<text x="59.5" y="316.0" font-size="13" text-anchor="end" fill="#222" >5</text>
<text x="59.5" y="255.5" font-size="13" text-anchor="end" fill="#222" >10</text>
<text x="59.5" y="195.0" font-size="13" text-anchor="end" fill="#222" >15</text>
<text x="59.5" y="134.5" font-size="13" text-anchor="end" fill="#222" >20</text>
<text x="59.5" y="74.0" font-size="13" text-anchor="end" fill="#222" >25</text>
<text x="59.5" y="12.7" font-size="13" text-anchor="end" fill="#222" >30</text>
<line x1="153.75" y1="431" x2="153.75" y2="426" stroke="#1a1a1a" stroke-width="1.1"/>
<line x1="236.25" y1="431" x2="236.25" y2="426" stroke="#1a1a1a" stroke-width="1.1"/>
<line x1="318.75" y1="431" x2="318.75" y2="426" stroke="#1a1a1a" stroke-width="1.1"/>
<line x1="401.25" y1="431" x2="401.25" y2="426" stroke="#1a1a1a" stroke-width="1.1"/>
<line x1="483.75" y1="431" x2="483.75" y2="426" stroke="#1a1a1a" stroke-width="1.1"/>
<line x1="566.25" y1="431" x2="566.25" y2="426" stroke="#1a1a1a" stroke-width="1.1"/>
<line x1="648.75" y1="431" x2="648.75" y2="426" stroke="#1a1a1a" stroke-width="1.1"/>
<line x1="731.25" y1="431" x2="731.25" y2="426" stroke="#1a1a1a" stroke-width="1.1"/>
<text x="69.25" y="453.5" font-size="12.6" text-anchor="middle" fill="#222" >0</text>
<text x="151.75" y="453.5" font-size="12.6" text-anchor="middle" fill="#222" textLength="22.5" lengthAdjust="spacingAndGlyphs" >500</text>
<text x="234.25" y="453.5" font-size="12.6" text-anchor="middle" fill="#222" textLength="31.5" lengthAdjust="spacingAndGlyphs" >1000</text>
<text x="316.75" y="453.5" font-size="12.6" text-anchor="middle" fill="#222" textLength="31.5" lengthAdjust="spacingAndGlyphs" >1500</text>
<text x="399.25" y="453.5" font-size="12.6" text-anchor="middle" fill="#222" textLength="31.5" lengthAdjust="spacingAndGlyphs" >2000</text>
<text x="481.75" y="453.5" font-size="12.6" text-anchor="middle" fill="#222" textLength="31.5" lengthAdjust="spacingAndGlyphs" >2500</text>
<text x="564.25" y="453.5" font-size="12.6" text-anchor="middle" fill="#222" textLength="31.5" lengthAdjust="spacingAndGlyphs" >3000</text>
<text x="646.75" y="453.5" font-size="12.6" text-anchor="middle" fill="#222" textLength="31.5" lengthAdjust="spacingAndGlyphs" >3500</text>
<text x="729.25" y="453.5" font-size="12.6" text-anchor="middle" fill="#222" textLength="31.5" lengthAdjust="spacingAndGlyphs" >4000</text>
<text x="798.60" y="453.5" font-size="12.6" text-anchor="middle" fill="#222" textLength="31.5" lengthAdjust="spacingAndGlyphs" >4500</text>
<text x="403.8" y="487.2" font-size="18.5" text-anchor="start" fill="#222" textLength="85.8" lengthAdjust="spacingAndGlyphs" >Age (Ma )</text>
<text transform="translate(16.3,255.5) rotate(-90)" font-size="18" fill="#222" textLength="75" lengthAdjust="spacingAndGlyphs">δ<tspan font-size="9" dy="-8.5">18</tspan><tspan dy="8.5">O(‰)</tspan></text>
<text x="86" y="38.7" font-size="17.5" text-anchor="start" fill="#222" textLength="28" lengthAdjust="spacingAndGlyphs" >(a)</text>
<rect x="324" y="4.5" width="489" height="178" fill="#fff" stroke="#555" stroke-width="1"/>
<rect x="330.5" y="9" width="9" height="8.5" fill="#0f9a48"/>
<rect x="330.5" y="28" width="9" height="8.5" fill="#f3aeb0" stroke="#e8c070" stroke-width="0.8"/>
<circle cx="335" cy="53" r="3.7" fill="#fbfab0" stroke="#a9bcc4" stroke-width="0.9"/>
<text x="343.7" y="19.5" font-size="12.6" fill="#222" textLength="458" lengthAdjust="spacingAndGlyphs">δ<tspan font-size="6.3" dy="-6">18</tspan><tspan dy="6">O(‰) of&#160; zircons from the published TTG and TTG-like rocks from refs.</tspan></text>
<text x="343.7" y="38.8" font-size="12.6" fill="#222" textLength="467" lengthAdjust="spacingAndGlyphs">δ<tspan font-size="6.3" dy="-6">18</tspan><tspan dy="6">O(‰) of&#160; altered zircons from several published TTG samples from refs.</tspan></text>
<text x="343.7" y="58" font-size="12.6" fill="#222" textLength="411" lengthAdjust="spacingAndGlyphs">δ<tspan font-size="6.3" dy="-6">18</tspan><tspan dy="6">O(‰) of&#160; zircons from igneous samples through time from refs.</tspan></text>
<path d="M335.3 69.8L339.0 72.4L337.6 76.7L333.0 76.7L331.6 72.4Z" fill="#f9dcc4" stroke="#f5b53a" stroke-width="1.8"/>
<text x="343.4" y="76.4" font-size="12.6" text-anchor="start" fill="#222" textLength="45.7" lengthAdjust="spacingAndGlyphs" >14LN-9</text>
<circle cx="335.3" cy="86.1" r="3.2" fill="#f9dcc4" stroke="#f5b53a" stroke-width="1.8"/>
<text x="343.4" y="92.2" font-size="12.6" text-anchor="start" fill="#222" textLength="44.3" lengthAdjust="spacingAndGlyphs" >14LN-1</text>
<path d="M335.3 97.3L339.3 101.3L335.3 105.3L331.3 101.3Z" fill="#f9dcc4" stroke="#f5b53a" stroke-width="1.8"/>
<text x="343.4" y="106.5" font-size="12.6" text-anchor="start" fill="#222" textLength="46.5" lengthAdjust="spacingAndGlyphs" >21LN-2</text>
<rect x="332.1" y="110.4" width="6.4" height="6.4" fill="#f9dcc4" stroke="#f5b53a" stroke-width="1.8"/>
<text x="343.4" y="118.3" font-size="12.6" text-anchor="start" fill="#222" textLength="53" lengthAdjust="spacingAndGlyphs" >21LN-51</text>
<path d="M335.3 123.6L339.3 130.8L331.3 130.8Z" fill="#f9dcc4" stroke="#f5b53a" stroke-width="1.8"/>
<text x="343.4" y="132.3" font-size="12.6" text-anchor="start" fill="#222" textLength="53.7" lengthAdjust="spacingAndGlyphs" >21LN-26</text>
<path d="M407 69.3H410.4V130.5H407M410.4 99.8H416.8" fill="none" stroke="#333" stroke-width="1"/>
<text x="422.5" y="104.6" font-size="12.6" text-anchor="start" fill="#222" textLength="172" lengthAdjust="spacingAndGlyphs" >Ca. 2.3 Ga TTG (this study)</text>
<circle cx="335.5" cy="148.8" r="4" fill="#1b9be4"/>
<text x="343.7" y="152" font-size="12.6" text-anchor="start" fill="#222" textLength="278" lengthAdjust="spacingAndGlyphs" >Ca. 2.3 Ga A-type granite (Zhou et al., 2021)</text>
<line x1="333" y1="170.5" x2="389" y2="170.5" stroke="#d9232e" stroke-width="3.6"/>
<text x="403.7" y="175" font-size="12.6" fill="#222" textLength="405" lengthAdjust="spacingAndGlyphs">Moving mean of zircon δ<tspan font-size="6.3" dy="-6">18</tspan><tspan dy="6">O(‰)&#160; from igneous samples from refs.</tspan></text>
<text x="572" y="252.3" font-size="12.6" fill="#222" textLength="238" lengthAdjust="spacingAndGlyphs">Mantle δ<tspan font-size="6.3" dy="-6">18</tspan><tspan dy="6">O(‰) value =5.3± 0.6‰</tspan></text>
<path d="M779 300.5C778.5 292 777.5 287 774 284.5C770.5 282.5 769.5 279 767.5 273L765 266" fill="none" stroke="#222" stroke-width="1"/>
<path d="M760.3 259.5L769.8 266L762.8 269.8Z" fill="#111"/>
<path d="M460 360.5C464 366 468 370.5 472.5 370C476 369.5 478 367 481 368.5C485 370.5 489 373 493 375" fill="none" stroke="#d4213d" stroke-width="1"/>
<path d="M501 378.5L490.5 377.8L494.3 371Z" fill="#d4213d"/>
<text x="508.6" y="386" font-size="13.2" text-anchor="start" fill="#e08a2a" textLength="173.4" lengthAdjust="spacingAndGlyphs" >Ca. 2.3 TTG in this study</text>
<clipPath id="cb"><rect x="70.5" y="507" width="423.25" height="268.75"/></clipPath>
<g stroke="#222" stroke-width="1" fill="none" clip-path="url(#cb)">
<path d="M124.5 507L493.75 592.5"/>
<path d="M70.5 623L248.4 535.7"/>
<path d="M70.5 749.25L421.25 577.3"/>
<path d="M125.9 775.75L493.75 595.5"/>
<path d="M70.5 641.6H493.75" stroke="#444"/>
</g>
<rect x="122.5" y="605.5" width="77.2" height="154.7" fill="none" stroke="#e8935a" stroke-width="1" stroke-dasharray="1.2 1.4"/>
<g fill="#e8e8e8" stroke="#8a8a8a" stroke-width="0.8" clip-path="url(#cb)"><circle cx="254.8" cy="560.5" r="2.8"/><circle cx="254.3" cy="562.2" r="2.8"/><circle cx="255.8" cy="565.5" r="2.8"/><circle cx="255.7" cy="568.5" r="2.8"/><circle cx="255.1" cy="572.0" r="2.8"/><circle cx="255.3" cy="574.6" r="2.8"/><circle cx="255.8" cy="577.9" r="2.8"/><circle cx="254.4" cy="580.9" r="2.8"/><circle cx="254.4" cy="583.5" r="2.8"/><circle cx="255.7" cy="584.9" r="2.8"/><circle cx="255.5" cy="589.4" r="2.8"/><circle cx="254.5" cy="593.0" r="2.8"/><circle cx="254.6" cy="596.8" r="2.8"/><circle cx="255.4" cy="598.8" r="2.8"/><circle cx="254.7" cy="600.7" r="2.8"/><circle cx="255.3" cy="604.9" r="2.8"/><circle cx="255.1" cy="607.9" r="2.8"/><circle cx="254.7" cy="610.8" r="2.8"/><circle cx="255.4" cy="613.5" r="2.8"/><circle cx="254.2" cy="616.5" r="2.8"/><circle cx="254.7" cy="620.3" r="2.8"/><circle cx="255.7" cy="622.7" r="2.8"/><circle cx="254.7" cy="624.8" r="2.8"/><circle cx="255.9" cy="629.3" r="2.8"/><circle cx="254.6" cy="631.9" r="2.8"/><circle cx="255.3" cy="635.4" r="2.8"/><circle cx="254.6" cy="637.8" r="2.8"/><circle cx="258.5" cy="575.3" r="2.8"/><circle cx="258.7" cy="577.4" r="2.8"/><circle cx="257.3" cy="580.2" r="2.8"/><circle cx="257.1" cy="583.4" r="2.8"/><circle cx="257.3" cy="587.4" r="2.8"/><circle cx="258.1" cy="590.1" r="2.8"/><circle cx="257.7" cy="593.4" r="2.8"/><circle cx="258.5" cy="596.9" r="2.8"/><circle cx="257.5" cy="598.4" r="2.8"/><circle cx="257.3" cy="602.8" r="2.8"/><circle cx="257.9" cy="606.4" r="2.8"/><circle cx="258.3" cy="610.7" r="2.8"/><circle cx="258.1" cy="614.0" r="2.8"/><circle cx="257.4" cy="617.7" r="2.8"/><circle cx="258.9" cy="621.6" r="2.8"/><circle cx="258.7" cy="624.5" r="2.8"/><circle cx="261.2" cy="538.6" r="2.8"/><circle cx="261.8" cy="542.7" r="2.8"/><circle cx="261.4" cy="544.7" r="2.8"/><circle cx="261.7" cy="547.2" r="2.8"/><circle cx="262.0" cy="549.2" r="2.8"/><circle cx="261.2" cy="551.7" r="2.8"/><circle cx="262.1" cy="556.0" r="2.8"/><circle cx="261.4" cy="558.0" r="2.8"/><circle cx="260.4" cy="560.9" r="2.8"/><circle cx="262.1" cy="564.3" r="2.8"/><circle cx="260.5" cy="567.3" r="2.8"/><circle cx="261.5" cy="570.7" r="2.8"/><circle cx="262.1" cy="573.9" r="2.8"/><circle cx="260.5" cy="577.3" r="2.8"/><circle cx="260.5" cy="581.3" r="2.8"/><circle cx="261.8" cy="584.6" r="2.8"/><circle cx="261.5" cy="588.1" r="2.8"/><circle cx="261.6" cy="591.1" r="2.8"/><circle cx="260.7" cy="593.6" r="2.8"/><circle cx="260.7" cy="597.6" r="2.8"/><circle cx="261.6" cy="601.4" r="2.8"/><circle cx="260.5" cy="604.2" r="2.8"/><circle cx="260.5" cy="607.3" r="2.8"/><circle cx="262.1" cy="610.9" r="2.8"/><circle cx="260.9" cy="613.8" r="2.8"/><circle cx="261.4" cy="617.0" r="2.8"/><circle cx="260.5" cy="619.2" r="2.8"/><circle cx="261.7" cy="622.8" r="2.8"/><circle cx="262.1" cy="626.5" r="2.8"/><circle cx="260.7" cy="629.6" r="2.8"/><circle cx="260.5" cy="632.3" r="2.8"/><circle cx="261.7" cy="635.3" r="2.8"/><circle cx="262.0" cy="637.9" r="2.8"/><circle cx="261.5" cy="639.6" r="2.8"/><circle cx="262.8" cy="548.3" r="2.8"/><circle cx="262.7" cy="551.6" r="2.8"/><circle cx="262.9" cy="554.8" r="2.8"/><circle cx="263.5" cy="557.8" r="2.8"/><circle cx="264.0" cy="561.0" r="2.8"/><circle cx="262.6" cy="564.9" r="2.8"/><circle cx="263.6" cy="567.5" r="2.8"/><circle cx="262.6" cy="571.7" r="2.8"/><circle cx="263.2" cy="573.4" r="2.8"/><circle cx="262.7" cy="576.8" r="2.8"/><circle cx="263.2" cy="578.9" r="2.8"/><circle cx="263.4" cy="581.4" r="2.8"/><circle cx="263.8" cy="583.7" r="2.8"/><circle cx="264.3" cy="587.9" r="2.8"/><circle cx="263.7" cy="591.7" r="2.8"/><circle cx="264.0" cy="594.6" r="2.8"/><circle cx="263.4" cy="597.2" r="2.8"/><circle cx="263.7" cy="601.7" r="2.8"/><circle cx="264.3" cy="603.8" r="2.8"/><circle cx="263.2" cy="607.5" r="2.8"/><circle cx="264.2" cy="609.4" r="2.8"/><circle cx="266.5" cy="542.8" r="2.8"/><circle cx="265.5" cy="544.4" r="2.8"/><circle cx="265.5" cy="548.1" r="2.8"/><circle cx="265.5" cy="550.5" r="2.8"/><circle cx="266.7" cy="554.4" r="2.8"/><circle cx="266.9" cy="557.8" r="2.8"/><circle cx="267.0" cy="560.0" r="2.8"/><circle cx="266.6" cy="562.8" r="2.8"/><circle cx="266.9" cy="567.7" r="2.8"/><circle cx="265.9" cy="569.9" r="2.8"/><circle cx="266.8" cy="572.7" r="2.8"/><circle cx="266.0" cy="575.5" r="2.8"/><circle cx="266.9" cy="578.5" r="2.8"/><circle cx="266.8" cy="581.6" r="2.8"/><circle cx="265.8" cy="583.6" r="2.8"/><circle cx="266.9" cy="586.7" r="2.8"/><circle cx="265.5" cy="589.9" r="2.8"/><circle cx="265.9" cy="591.9" r="2.8"/><circle cx="267.0" cy="595.9" r="2.8"/><circle cx="265.7" cy="599.1" r="2.8"/><circle cx="266.0" cy="602.4" r="2.8"/><circle cx="266.9" cy="606.6" r="2.8"/><circle cx="266.7" cy="609.2" r="2.8"/><circle cx="266.5" cy="611.3" r="2.8"/><circle cx="266.9" cy="614.1" r="2.8"/><circle cx="265.8" cy="617.7" r="2.8"/><circle cx="266.0" cy="620.5" r="2.8"/><circle cx="266.2" cy="623.3" r="2.8"/><circle cx="266.3" cy="625.7" r="2.8"/><circle cx="266.2" cy="629.1" r="2.8"/><circle cx="266.1" cy="632.0" r="2.8"/><circle cx="265.8" cy="634.9" r="2.8"/><circle cx="268.7" cy="549.5" r="2.8"/><circle cx="269.0" cy="552.8" r="2.8"/><circle cx="269.9" cy="556.9" r="2.8"/><circle cx="268.2" cy="559.2" r="2.8"/><circle cx="269.0" cy="561.6" r="2.8"/><circle cx="268.3" cy="564.3" r="2.8"/><circle cx="269.8" cy="567.7" r="2.8"/><circle cx="269.6" cy="569.9" r="2.8"/><circle cx="268.6" cy="572.5" r="2.8"/><circle cx="269.4" cy="574.4" r="2.8"/><circle cx="269.0" cy="577.2" r="2.8"/><circle cx="269.7" cy="580.9" r="2.8"/><circle cx="268.2" cy="584.4" r="2.8"/><circle cx="269.3" cy="587.4" r="2.8"/><circle cx="268.8" cy="591.1" r="2.8"/><circle cx="268.2" cy="593.9" r="2.8"/><circle cx="269.3" cy="597.1" r="2.8"/><circle cx="268.9" cy="599.3" r="2.8"/><circle cx="273.1" cy="542.2" r="2.8"/><circle cx="273.1" cy="546.2" r="2.8"/><circle cx="272.0" cy="548.7" r="2.8"/><circle cx="271.9" cy="551.3" r="2.8"/><circle cx="271.7" cy="554.4" r="2.8"/><circle cx="272.9" cy="558.5" r="2.8"/><circle cx="273.2" cy="560.5" r="2.8"/><circle cx="272.2" cy="564.2" r="2.8"/><circle cx="273.4" cy="566.9" r="2.8"/><circle cx="271.9" cy="568.7" r="2.8"/><circle cx="272.6" cy="572.6" r="2.8"/><circle cx="273.1" cy="574.5" r="2.8"/><circle cx="272.7" cy="578.5" r="2.8"/><circle cx="272.3" cy="581.5" r="2.8"/><circle cx="272.1" cy="584.9" r="2.8"/><circle cx="273.4" cy="588.4" r="2.8"/><circle cx="273.0" cy="591.2" r="2.8"/><circle cx="271.7" cy="595.0" r="2.8"/><circle cx="272.1" cy="598.3" r="2.8"/><circle cx="271.9" cy="617.3" r="2.8"/><circle cx="272.9" cy="620.5" r="2.8"/><circle cx="273.1" cy="624.5" r="2.8"/><circle cx="271.7" cy="628.1" r="2.8"/><circle cx="271.8" cy="629.8" r="2.8"/><circle cx="272.1" cy="633.4" r="2.8"/><circle cx="272.6" cy="636.6" r="2.8"/><circle cx="275.6" cy="548.2" r="2.8"/><circle cx="275.5" cy="550.9" r="2.8"/><circle cx="275.7" cy="553.5" r="2.8"/><circle cx="276.1" cy="557.3" r="2.8"/><circle cx="275.3" cy="560.6" r="2.8"/><circle cx="276.1" cy="563.0" r="2.8"/><circle cx="275.8" cy="564.7" r="2.8"/><circle cx="276.3" cy="567.7" r="2.8"/><circle cx="276.0" cy="571.1" r="2.8"/><circle cx="275.4" cy="574.2" r="2.8"/><circle cx="276.4" cy="577.9" r="2.8"/><circle cx="275.6" cy="582.3" r="2.8"/><circle cx="275.9" cy="584.6" r="2.8"/><circle cx="275.3" cy="588.3" r="2.8"/><circle cx="279.6" cy="545.2" r="2.8"/><circle cx="278.1" cy="548.8" r="2.8"/><circle cx="279.0" cy="552.8" r="2.8"/><circle cx="278.7" cy="555.5" r="2.8"/><circle cx="278.5" cy="559.2" r="2.8"/><circle cx="279.3" cy="561.8" r="2.8"/><circle cx="279.3" cy="564.9" r="2.8"/><circle cx="279.0" cy="567.2" r="2.8"/><circle cx="278.2" cy="570.3" r="2.8"/><circle cx="279.2" cy="573.7" r="2.8"/><circle cx="256.3" cy="627.6" r="2.8"/><circle cx="255.9" cy="630.4" r="2.8"/><circle cx="255.2" cy="634.2" r="2.8"/><circle cx="255.8" cy="636.9" r="2.8"/><circle cx="256.5" cy="639.4" r="2.8"/><circle cx="267.5" cy="621.6" r="2.8"/><circle cx="268.7" cy="624.8" r="2.8"/><circle cx="267.1" cy="626.4" r="2.8"/><circle cx="267.5" cy="629.2" r="2.8"/><circle cx="267.7" cy="631.2" r="2.8"/><circle cx="268.7" cy="634.7" r="2.8"/><circle cx="256.0" cy="641.0" r="2.8"/><circle cx="258.0" cy="644.0" r="2.8"/><circle cx="309.6" cy="545.7" r="2.8"/><circle cx="309.2" cy="548.9" r="2.8"/><circle cx="310.7" cy="550.5" r="2.8"/><circle cx="309.4" cy="553.9" r="2.8"/><circle cx="310.5" cy="558.1" r="2.8"/><circle cx="309.9" cy="561.3" r="2.8"/><circle cx="309.7" cy="563.2" r="2.8"/><circle cx="309.2" cy="566.4" r="2.8"/><circle cx="309.9" cy="570.4" r="2.8"/><circle cx="310.2" cy="574.5" r="2.8"/><circle cx="309.9" cy="576.6" r="2.8"/><circle cx="309.5" cy="581.5" r="2.8"/><circle cx="313.0" cy="552.0" r="2.8"/><circle cx="312.2" cy="554.6" r="2.8"/><circle cx="311.6" cy="557.8" r="2.8"/><circle cx="312.9" cy="560.2" r="2.8"/><circle cx="311.9" cy="563.4" r="2.8"/><circle cx="313.2" cy="566.4" r="2.8"/><circle cx="312.4" cy="568.9" r="2.8"/><circle cx="312.8" cy="572.9" r="2.8"/><circle cx="310.0" cy="595.0" r="2.8"/><circle cx="313.0" cy="592.0" r="2.8"/><circle cx="317.3" cy="545.0" r="2.8"/><circle cx="318.0" cy="547.5" r="2.8"/><circle cx="317.2" cy="550.1" r="2.8"/><circle cx="317.7" cy="552.6" r="2.8"/><circle cx="317.2" cy="555.5" r="2.8"/><circle cx="318.2" cy="558.9" r="2.8"/><circle cx="317.2" cy="561.2" r="2.8"/><circle cx="317.7" cy="565.1" r="2.8"/><circle cx="318.0" cy="567.4" r="2.8"/><circle cx="318.1" cy="571.0" r="2.8"/><circle cx="317.9" cy="573.4" r="2.8"/><circle cx="317.9" cy="576.8" r="2.8"/><circle cx="318.0" cy="578.8" r="2.8"/><circle cx="316.8" cy="587.4" r="2.8"/><circle cx="317.6" cy="590.4" r="2.8"/><circle cx="316.7" cy="594.6" r="2.8"/><circle cx="317.8" cy="597.9" r="2.8"/><circle cx="316.9" cy="601.5" r="2.8"/><circle cx="317.9" cy="604.2" r="2.8"/><circle cx="317.8" cy="608.7" r="2.8"/><circle cx="319.7" cy="560.4" r="2.8"/><circle cx="319.8" cy="563.0" r="2.8"/><circle cx="320.6" cy="566.4" r="2.8"/><circle cx="320.7" cy="569.0" r="2.8"/><circle cx="319.3" cy="572.8" r="2.8"/><circle cx="320.4" cy="576.0" r="2.8"/><circle cx="319.4" cy="579.1" r="2.8"/><circle cx="319.8" cy="582.0" r="2.8"/><circle cx="320.4" cy="586.4" r="2.8"/><circle cx="320.7" cy="589.0" r="2.8"/><circle cx="319.1" cy="592.7" r="2.8"/><circle cx="320.4" cy="596.9" r="2.8"/><circle cx="319.7" cy="600.0" r="2.8"/><circle cx="320.3" cy="603.6" r="2.8"/><circle cx="319.1" cy="605.4" r="2.8"/><circle cx="320.5" cy="608.2" r="2.8"/><circle cx="322.2" cy="539.3" r="2.8"/><circle cx="322.7" cy="541.8" r="2.8"/><circle cx="322.6" cy="545.4" r="2.8"/><circle cx="322.6" cy="548.7" r="2.8"/><circle cx="323.3" cy="550.7" r="2.8"/><circle cx="323.1" cy="554.5" r="2.8"/><circle cx="323.3" cy="557.1" r="2.8"/><circle cx="322.4" cy="561.1" r="2.8"/><circle cx="323.0" cy="564.0" r="2.8"/><circle cx="322.7" cy="566.9" r="2.8"/><circle cx="323.3" cy="570.2" r="2.8"/><circle cx="322.4" cy="574.3" r="2.8"/><circle cx="323.6" cy="578.7" r="2.8"/><circle cx="323.1" cy="582.4" r="2.8"/><circle cx="323.6" cy="586.2" r="2.8"/><circle cx="322.9" cy="589.5" r="2.8"/><circle cx="323.6" cy="593.4" r="2.8"/><circle cx="322.2" cy="595.5" r="2.8"/><circle cx="323.7" cy="599.2" r="2.8"/><circle cx="323.2" cy="602.6" r="2.8"/><circle cx="323.6" cy="605.0" r="2.8"/><circle cx="323.0" cy="607.5" r="2.8"/><circle cx="323.7" cy="611.1" r="2.8"/><circle cx="322.7" cy="614.2" r="2.8"/><circle cx="322.7" cy="617.8" r="2.8"/><circle cx="326.9" cy="575.5" r="2.8"/><circle cx="325.9" cy="576.7" r="2.8"/><circle cx="325.5" cy="580.9" r="2.8"/><circle cx="326.8" cy="584.6" r="2.8"/><circle cx="326.3" cy="588.3" r="2.8"/><circle cx="326.1" cy="590.7" r="2.8"/><circle cx="326.9" cy="593.3" r="2.8"/><circle cx="326.0" cy="596.6" r="2.8"/><circle cx="326.5" cy="598.8" r="2.8"/><circle cx="325.8" cy="601.5" r="2.8"/><circle cx="325.4" cy="604.7" r="2.8"/><circle cx="325.9" cy="606.6" r="2.8"/><circle cx="326.0" cy="611.4" r="2.8"/><circle cx="326.5" cy="613.4" r="2.8"/><circle cx="326.2" cy="617.6" r="2.8"/><circle cx="330.7" cy="559.6" r="2.8"/><circle cx="330.3" cy="562.7" r="2.8"/><circle cx="330.1" cy="564.0" r="2.8"/><circle cx="330.0" cy="567.3" r="2.8"/><circle cx="330.4" cy="570.9" r="2.8"/><circle cx="329.9" cy="572.8" r="2.8"/><circle cx="329.4" cy="581.9" r="2.8"/><circle cx="329.3" cy="584.5" r="2.8"/><circle cx="329.5" cy="587.2" r="2.8"/><circle cx="329.2" cy="591.2" r="2.8"/><circle cx="330.7" cy="594.1" r="2.8"/><circle cx="330.1" cy="597.8" r="2.8"/><circle cx="329.5" cy="601.5" r="2.8"/><circle cx="330.9" cy="605.9" r="2.8"/><circle cx="329.9" cy="608.1" r="2.8"/><circle cx="330.6" cy="610.5" r="2.8"/><circle cx="330.0" cy="613.1" r="2.8"/><circle cx="330.7" cy="618.0" r="2.8"/><circle cx="329.8" cy="620.5" r="2.8"/><circle cx="329.5" cy="623.2" r="2.8"/><circle cx="330.0" cy="550.0" r="2.8"/><circle cx="328.0" cy="556.0" r="2.8"/><circle cx="387.9" cy="553.1" r="2.8"/><circle cx="388.2" cy="554.8" r="2.8"/><circle cx="387.2" cy="558.1" r="2.8"/><circle cx="386.9" cy="560.9" r="2.8"/><circle cx="387.1" cy="563.0" r="2.8"/><circle cx="388.0" cy="566.8" r="2.8"/><circle cx="387.1" cy="569.7" r="2.8"/><circle cx="387.5" cy="572.6" r="2.8"/><circle cx="387.2" cy="575.0" r="2.8"/><circle cx="386.8" cy="577.7" r="2.8"/><circle cx="387.9" cy="580.5" r="2.8"/><circle cx="387.4" cy="583.7" r="2.8"/><circle cx="386.7" cy="586.8" r="2.8"/><circle cx="387.5" cy="589.6" r="2.8"/><circle cx="393.8" cy="552.6" r="2.8"/><circle cx="393.3" cy="555.2" r="2.8"/><circle cx="393.3" cy="557.1" r="2.8"/><circle cx="392.8" cy="560.1" r="2.8"/><circle cx="392.5" cy="563.8" r="2.8"/><circle cx="393.1" cy="566.0" r="2.8"/><circle cx="392.3" cy="568.9" r="2.8"/><circle cx="393.2" cy="572.7" r="2.8"/><circle cx="392.6" cy="575.2" r="2.8"/><circle cx="393.1" cy="577.7" r="2.8"/><circle cx="393.8" cy="579.5" r="2.8"/><circle cx="393.2" cy="582.6" r="2.8"/><circle cx="392.1" cy="586.6" r="2.8"/><circle cx="393.6" cy="588.6" r="2.8"/><circle cx="390.7" cy="564.7" r="2.8"/><circle cx="390.8" cy="568.3" r="2.8"/><circle cx="389.5" cy="571.4" r="2.8"/><circle cx="389.7" cy="573.5" r="2.8"/><circle cx="389.3" cy="577.8" r="2.8"/><circle cx="389.3" cy="581.1" r="2.8"/><circle cx="377.5" cy="555.5" r="2.8"/><circle cx="381.2" cy="566.2" r="2.8"/><circle cx="377.5" cy="576.2" r="2.8"/><circle cx="382.5" cy="582.5" r="2.8"/><circle cx="375.0" cy="588.8" r="2.8"/><circle cx="408.0" cy="548.8" r="2.8"/><circle cx="405.0" cy="552.5" r="2.8"/><circle cx="407.0" cy="566.2" r="2.8"/><circle cx="403.0" cy="575.8" r="2.8"/><circle cx="408.8" cy="580.5" r="2.8"/><circle cx="397.5" cy="586.2" r="2.8"/><circle cx="395.0" cy="592.0" r="2.8"/><circle cx="360.0" cy="592.5" r="2.8"/><circle cx="356.2" cy="597.5" r="2.8"/><circle cx="359.5" cy="600.5" r="2.8"/><circle cx="368.2" cy="595.0" r="2.8"/><circle cx="370.0" cy="595.0" r="2.8"/><circle cx="371.2" cy="601.8" r="2.8"/><circle cx="379.2" cy="604.2" r="2.8"/><circle cx="350.8" cy="608.8" r="2.8"/><circle cx="387.5" cy="628.2" r="2.8"/><circle cx="384.0" cy="596.0" r="2.8"/><circle cx="389.5" cy="600.5" r="2.8"/><circle cx="394.0" cy="602.5" r="2.8"/></g>
<path d="M178.9 624.8L183.0 628.9L178.9 633.0L174.8 628.9Z" fill="#f4c8aa" stroke="#f7b52e" stroke-width="1.7"/>
<path d="M178.9 645.1L183.0 649.2L178.9 653.3L174.8 649.2Z" fill="#f4c8aa" stroke="#f7b52e" stroke-width="1.7"/>
<path d="M178.9 649.5L183.0 656.9L174.8 656.9Z" fill="#f4c8aa" stroke="#f7b52e" stroke-width="1.7"/>
<path d="M178.9 653.9L183.0 658.0L178.9 662.1L174.8 658.0Z" fill="#f4c8aa" stroke="#f7b52e" stroke-width="1.7"/>
<rect x="175.6" y="637.2" width="6.6" height="6.6" fill="#f4c8aa" stroke="#f7b52e" stroke-width="1.7"/>
<rect x="175.6" y="660.2" width="6.6" height="6.6" fill="#f4c8aa" stroke="#f7b52e" stroke-width="1.7"/>
<rect x="175.6" y="665.7" width="6.6" height="6.6" fill="#f4c8aa" stroke="#f7b52e" stroke-width="1.7"/>
<rect x="175.6" y="673.3" width="6.6" height="6.6" fill="#f4c8aa" stroke="#f7b52e" stroke-width="1.7"/>
<path d="M178.9 680.2L183.0 684.3L178.9 688.4L174.8 684.3Z" fill="#f4c8aa" stroke="#f7b52e" stroke-width="1.7"/>
<circle cx="178.9" cy="681.0" r="3.3" fill="#f4c8aa" stroke="#f7b52e" stroke-width="1.7"/>
<rect x="175.6" y="687.5" width="6.6" height="6.6" fill="#f4c8aa" stroke="#f7b52e" stroke-width="1.7"/>
<circle cx="173.5" cy="695.9" r="3.3" fill="#f4c8aa" stroke="#f7b52e" stroke-width="1.7"/>
<circle cx="173.5" cy="700.2" r="3.3" fill="#f4c8aa" stroke="#f7b52e" stroke-width="1.7"/>
<circle cx="173.5" cy="704.6" r="3.3" fill="#f4c8aa" stroke="#f7b52e" stroke-width="1.7"/>
<circle cx="173.5" cy="709.0" r="3.3" fill="#f4c8aa" stroke="#f7b52e" stroke-width="1.7"/>
<path d="M165.8 700.4L169.6 703.2L168.1 707.6L163.5 707.6L162.0 703.2Z" fill="#f4c8aa" stroke="#f7b52e" stroke-width="1.7"/>
<rect x="175.6" y="693.0" width="6.6" height="6.6" fill="#f4c8aa" stroke="#f7b52e" stroke-width="1.7"/>
<rect x="175.6" y="697.7" width="6.6" height="6.6" fill="#f4c8aa" stroke="#f7b52e" stroke-width="1.7"/>
<rect x="175.6" y="702.7" width="6.6" height="6.6" fill="#f4c8aa" stroke="#f7b52e" stroke-width="1.7"/>
<path d="M178.9 704.4L183.0 711.8L174.8 711.8Z" fill="#f4c8aa" stroke="#f7b52e" stroke-width="1.7"/>
<rect x="175.6" y="708.3" width="6.6" height="6.6" fill="#f4c8aa" stroke="#f7b52e" stroke-width="1.7"/>
<rect x="152.0" y="665.0" width="6.6" height="6.6" fill="#f4c8aa" stroke="#f7b52e" stroke-width="1.7"/>
<path d="M166.2 672.2L170.0 675.0L168.5 679.4L163.9 679.4L162.4 675.0Z" fill="#f4c8aa" stroke="#f7b52e" stroke-width="1.7"/>
<circle cx="174.1" cy="718.2" r="3.3" fill="#f4c8aa" stroke="#f7b52e" stroke-width="1.7"/>
<path d="M178.9 715.6L183.0 719.7L178.9 723.8L174.8 719.7Z" fill="#f4c8aa" stroke="#f7b52e" stroke-width="1.7"/>
<path d="M164.7 718.6L168.5 721.4L167.0 725.8L162.4 725.8L160.9 721.4Z" fill="#f4c8aa" stroke="#f7b52e" stroke-width="1.7"/>
<circle cx="173.9" cy="726.5" r="3.3" fill="#f4c8aa" stroke="#f7b52e" stroke-width="1.7"/>
<path d="M165.2 728.0L169.0 730.8L167.5 735.2L162.9 735.2L161.4 730.8Z" fill="#f4c8aa" stroke="#f7b52e" stroke-width="1.7"/>
<path d="M165.2 732.8L169.0 735.6L167.5 740.0L162.9 740.0L161.4 735.6Z" fill="#f4c8aa" stroke="#f7b52e" stroke-width="1.7"/>
<rect x="128.6" y="733.9" width="6.6" height="6.6" fill="#f4c8aa" stroke="#f7b52e" stroke-width="1.7"/>
<path d="M158.2 740.4L162.3 747.8L154.1 747.8Z" fill="#f4c8aa" stroke="#f7b52e" stroke-width="1.7"/>
<path d="M165.8 748.5L169.6 751.3L168.1 755.7L163.5 755.7L162.0 751.3Z" fill="#f4c8aa" stroke="#f7b52e" stroke-width="1.7"/>
<rect x="70.5" y="507" width="423.25" height="268.75" fill="none" stroke="#222" stroke-width="1.4"/>
<line x1="70.5" y1="776.00" x2="75.5" y2="776.00" stroke="#222" stroke-width="1"/>
<line x1="70.5" y1="770.62" x2="73.0" y2="770.62" stroke="#222" stroke-width="1"/>
<line x1="70.5" y1="765.25" x2="73.0" y2="765.25" stroke="#222" stroke-width="1"/>
<line x1="70.5" y1="759.87" x2="73.0" y2="759.87" stroke="#222" stroke-width="1"/>
<line x1="70.5" y1="754.50" x2="73.0" y2="754.50" stroke="#222" stroke-width="1"/>
<line x1="70.5" y1="749.12" x2="75.5" y2="749.12" stroke="#222" stroke-width="1"/>
<line x1="70.5" y1="743.74" x2="73.0" y2="743.74" stroke="#222" stroke-width="1"/>
<line x1="70.5" y1="738.37" x2="73.0" y2="738.37" stroke="#222" stroke-width="1"/>
<line x1="70.5" y1="732.99" x2="73.0" y2="732.99" stroke="#222" stroke-width="1"/>
<line x1="70.5" y1="727.62" x2="73.0" y2="727.62" stroke="#222" stroke-width="1"/>
<line x1="70.5" y1="722.24" x2="75.5" y2="722.24" stroke="#222" stroke-width="1"/>
<line x1="70.5" y1="716.86" x2="73.0" y2="716.86" stroke="#222" stroke-width="1"/>
<line x1="70.5" y1="711.49" x2="73.0" y2="711.49" stroke="#222" stroke-width="1"/>
<line x1="70.5" y1="706.11" x2="73.0" y2="706.11" stroke="#222" stroke-width="1"/>
<line x1="70.5" y1="700.74" x2="73.0" y2="700.74" stroke="#222" stroke-width="1"/>
<line x1="70.5" y1="695.36" x2="75.5" y2="695.36" stroke="#222" stroke-width="1"/>
<line x1="70.5" y1="689.98" x2="73.0" y2="689.98" stroke="#222" stroke-width="1"/>
<line x1="70.5" y1="684.61" x2="73.0" y2="684.61" stroke="#222" stroke-width="1"/>
<line x1="70.5" y1="679.23" x2="73.0" y2="679.23" stroke="#222" stroke-width="1"/>
<line x1="70.5" y1="673.86" x2="73.0" y2="673.86" stroke="#222" stroke-width="1"/>
<line x1="70.5" y1="668.48" x2="75.5" y2="668.48" stroke="#222" stroke-width="1"/>
<line x1="70.5" y1="663.10" x2="73.0" y2="663.10" stroke="#222" stroke-width="1"/>
<line x1="70.5" y1="657.73" x2="73.0" y2="657.73" stroke="#222" stroke-width="1"/>
<line x1="70.5" y1="652.35" x2="73.0" y2="652.35" stroke="#222" stroke-width="1"/>
<line x1="70.5" y1="646.98" x2="73.0" y2="646.98" stroke="#222" stroke-width="1"/>
<line x1="70.5" y1="641.60" x2="75.5" y2="641.60" stroke="#222" stroke-width="1"/>
<line x1="70.5" y1="636.22" x2="73.0" y2="636.22" stroke="#222" stroke-width="1"/>
<line x1="70.5" y1="630.85" x2="73.0" y2="630.85" stroke="#222" stroke-width="1"/>
<line x1="70.5" y1="625.47" x2="73.0" y2="625.47" stroke="#222" stroke-width="1"/>
<line x1="70.5" y1="620.10" x2="73.0" y2="620.10" stroke="#222" stroke-width="1"/>
<line x1="70.5" y1="614.72" x2="75.5" y2="614.72" stroke="#222" stroke-width="1"/>
<line x1="70.5" y1="609.34" x2="73.0" y2="609.34" stroke="#222" stroke-width="1"/>
<line x1="70.5" y1="603.97" x2="73.0" y2="603.97" stroke="#222" stroke-width="1"/>
<line x1="70.5" y1="598.59" x2="73.0" y2="598.59" stroke="#222" stroke-width="1"/>
<line x1="70.5" y1="593.22" x2="73.0" y2="593.22" stroke="#222" stroke-width="1"/>
<line x1="70.5" y1="587.84" x2="75.5" y2="587.84" stroke="#222" stroke-width="1"/>
<line x1="70.5" y1="582.46" x2="73.0" y2="582.46" stroke="#222" stroke-width="1"/>
<line x1="70.5" y1="577.09" x2="73.0" y2="577.09" stroke="#222" stroke-width="1"/>
<line x1="70.5" y1="571.71" x2="73.0" y2="571.71" stroke="#222" stroke-width="1"/>
<line x1="70.5" y1="566.34" x2="73.0" y2="566.34" stroke="#222" stroke-width="1"/>
<line x1="70.5" y1="560.96" x2="75.5" y2="560.96" stroke="#222" stroke-width="1"/>
<line x1="70.5" y1="555.58" x2="73.0" y2="555.58" stroke="#222" stroke-width="1"/>
<line x1="70.5" y1="550.21" x2="73.0" y2="550.21" stroke="#222" stroke-width="1"/>
<line x1="70.5" y1="544.83" x2="73.0" y2="544.83" stroke="#222" stroke-width="1"/>
<line x1="70.5" y1="539.46" x2="73.0" y2="539.46" stroke="#222" stroke-width="1"/>
<line x1="70.5" y1="534.08" x2="75.5" y2="534.08" stroke="#222" stroke-width="1"/>
<line x1="70.5" y1="528.70" x2="73.0" y2="528.70" stroke="#222" stroke-width="1"/>
<line x1="70.5" y1="523.33" x2="73.0" y2="523.33" stroke="#222" stroke-width="1"/>
<line x1="70.5" y1="517.95" x2="73.0" y2="517.95" stroke="#222" stroke-width="1"/>
<line x1="70.5" y1="512.58" x2="73.0" y2="512.58" stroke="#222" stroke-width="1"/>
<line x1="70.5" y1="507.20" x2="75.5" y2="507.20" stroke="#222" stroke-width="1"/>
<text x="59.5" y="780.8" font-size="13.2" text-anchor="end" fill="#222" textLength="20" lengthAdjust="spacingAndGlyphs" >-10</text>
<text x="59.5" y="753.92" font-size="13.2" text-anchor="end" fill="#222" textLength="12.5" lengthAdjust="spacingAndGlyphs" >-8</text>
<text x="59.5" y="727.04" font-size="13.2" text-anchor="end" fill="#222" textLength="12.5" lengthAdjust="spacingAndGlyphs" >-6</text>
<text x="59.5" y="700.16" font-size="13.2" text-anchor="end" fill="#222" textLength="12.5" lengthAdjust="spacingAndGlyphs" >-4</text>
<text x="59.5" y="673.28" font-size="13.2" text-anchor="end" fill="#222" textLength="12.5" lengthAdjust="spacingAndGlyphs" >-2</text>
<text x="59.5" y="646.4" font-size="13.2" text-anchor="end" fill="#222" textLength="7.6" lengthAdjust="spacingAndGlyphs" >0</text>
<text x="59.5" y="619.52" font-size="13.2" text-anchor="end" fill="#222" textLength="7.6" lengthAdjust="spacingAndGlyphs" >2</text>
<text x="59.5" y="592.64" font-size="13.2" text-anchor="end" fill="#222" textLength="7.6" lengthAdjust="spacingAndGlyphs" >4</text>
<text x="59.5" y="565.76" font-size="13.2" text-anchor="end" fill="#222" textLength="7.6" lengthAdjust="spacingAndGlyphs" >6</text>
<text x="59.5" y="538.88" font-size="13.2" text-anchor="end" fill="#222" textLength="7.6" lengthAdjust="spacingAndGlyphs" >8</text>
<text x="59.5" y="512.0" font-size="13.2" text-anchor="end" fill="#222" textLength="15.2" lengthAdjust="spacingAndGlyphs" >10</text>
<line x1="88.14" y1="775.75" x2="88.14" y2="773.75" stroke="#222" stroke-width="1"/>
<line x1="105.77" y1="775.75" x2="105.77" y2="773.75" stroke="#222" stroke-width="1"/>
<line x1="123.41" y1="775.75" x2="123.41" y2="773.75" stroke="#222" stroke-width="1"/>
<line x1="141.04" y1="775.75" x2="141.04" y2="771.75" stroke="#222" stroke-width="1"/>
<line x1="158.68" y1="775.75" x2="158.68" y2="773.75" stroke="#222" stroke-width="1"/>
<line x1="176.31" y1="775.75" x2="176.31" y2="773.75" stroke="#222" stroke-width="1"/>
<line x1="193.95" y1="775.75" x2="193.95" y2="773.75" stroke="#222" stroke-width="1"/>
<line x1="211.58" y1="775.75" x2="211.58" y2="771.75" stroke="#222" stroke-width="1"/>
<line x1="229.22" y1="775.75" x2="229.22" y2="773.75" stroke="#222" stroke-width="1"/>
<line x1="246.85" y1="775.75" x2="246.85" y2="773.75" stroke="#222" stroke-width="1"/>
<line x1="264.49" y1="775.75" x2="264.49" y2="773.75" stroke="#222" stroke-width="1"/>
<line x1="282.12" y1="775.75" x2="282.12" y2="771.75" stroke="#222" stroke-width="1"/>
<line x1="299.76" y1="775.75" x2="299.76" y2="773.75" stroke="#222" stroke-width="1"/>
<line x1="317.40" y1="775.75" x2="317.40" y2="773.75" stroke="#222" stroke-width="1"/>
<line x1="335.03" y1="775.75" x2="335.03" y2="773.75" stroke="#222" stroke-width="1"/>
<line x1="352.67" y1="775.75" x2="352.67" y2="771.75" stroke="#222" stroke-width="1"/>
<line x1="370.30" y1="775.75" x2="370.30" y2="773.75" stroke="#222" stroke-width="1"/>
<line x1="387.94" y1="775.75" x2="387.94" y2="773.75" stroke="#222" stroke-width="1"/>
<line x1="405.57" y1="775.75" x2="405.57" y2="773.75" stroke="#222" stroke-width="1"/>
<line x1="423.21" y1="775.75" x2="423.21" y2="771.75" stroke="#222" stroke-width="1"/>
<line x1="440.84" y1="775.75" x2="440.84" y2="773.75" stroke="#222" stroke-width="1"/>
<line x1="458.48" y1="775.75" x2="458.48" y2="773.75" stroke="#222" stroke-width="1"/>
<line x1="476.11" y1="775.75" x2="476.11" y2="773.75" stroke="#222" stroke-width="1"/>
<text x="74.0" y="794.5" font-size="13.2" text-anchor="middle" fill="#222" textLength="30.5" lengthAdjust="spacingAndGlyphs" >2000</text>
<text x="144.5" y="794.5" font-size="13.2" text-anchor="middle" fill="#222" textLength="30.5" lengthAdjust="spacingAndGlyphs" >2200</text>
<text x="215.1" y="794.5" font-size="13.2" text-anchor="middle" fill="#222" textLength="30.5" lengthAdjust="spacingAndGlyphs" >2400</text>
<text x="285.6" y="794.5" font-size="13.2" text-anchor="middle" fill="#222" textLength="30.5" lengthAdjust="spacingAndGlyphs" >2600</text>
<text x="356.2" y="794.5" font-size="13.2" text-anchor="middle" fill="#222" textLength="30.5" lengthAdjust="spacingAndGlyphs" >2800</text>
<text x="426.7" y="794.5" font-size="13.2" text-anchor="middle" fill="#222" textLength="30.5" lengthAdjust="spacingAndGlyphs" >3000</text>
<text x="497.2" y="794.5" font-size="13.2" text-anchor="middle" fill="#222" textLength="30.5" lengthAdjust="spacingAndGlyphs" >3200</text>
<text x="242.5" y="815" font-size="19.5" text-anchor="start" fill="#222" textLength="87.5" lengthAdjust="spacingAndGlyphs" >Age (Ma)</text>
<text transform="translate(37.7,662) rotate(-90)" font-size="20" fill="#222" textLength="43" lengthAdjust="spacingAndGlyphs"><tspan font-style="italic">ε</tspan><tspan font-size="9" dy="3">Hf</tspan><tspan dy="-3">(</tspan><tspan font-style="italic">t</tspan>)</text>
<text x="84.5" y="530" font-size="17.5" text-anchor="start" fill="#222" textLength="25.5" lengthAdjust="spacingAndGlyphs" >(b)</text>
<text x="72.5" y="656" font-size="14.5" text-anchor="start" fill="#222" textLength="44.5" lengthAdjust="spacingAndGlyphs" >CHUR</text>
<text x="460" y="578" font-size="14.5" text-anchor="start" fill="#222" textLength="23" lengthAdjust="spacingAndGlyphs" >DM</text>
<text x="178" y="518" font-size="11.6" text-anchor="start" fill="#2e2f8f" font-weight="bold" textLength="314" lengthAdjust="spacingAndGlyphs" >Lower crust-derived TTG in the NCC from&#160; refs.</text>
<text x="251.25" y="533" font-size="11" text-anchor="start" fill="#222" textLength="35.75" lengthAdjust="spacingAndGlyphs" >2.5 Ga</text>
<text x="306.75" y="533" font-size="11" text-anchor="start" fill="#222" textLength="35.75" lengthAdjust="spacingAndGlyphs" >2.7 Ga</text>
<text x="377" y="533.75" font-size="11" text-anchor="start" fill="#222" textLength="35.75" lengthAdjust="spacingAndGlyphs" >2.9 Ga</text>
<path d="M271.25 534.25L268.75 541.25M320.5 533.25L323 538.75M393.75 535L388.75 551.25" stroke="#222" stroke-width="0.9"/>
<text transform="translate(200.8,574.5) rotate(-25)" font-size="14.5" fill="#222" text-anchor="middle" textLength="47.5" lengthAdjust="spacingAndGlyphs">2.5 Ga</text>
<text transform="translate(387.6,665) rotate(-25)" font-size="14.5" fill="#222" text-anchor="middle" textLength="47.5" lengthAdjust="spacingAndGlyphs">3.2 Ga</text>
<text transform="translate(96,755) rotate(-25)" font-size="14.5" fill="#222" text-anchor="middle" textLength="47.5" lengthAdjust="spacingAndGlyphs">3.0 Ga</text>
<path d="M199.7 728C204 733 210 741 216 742C221 742.5 220 735 224 733.5C229 732 236 735 244 736.5" fill="none" stroke="#ef9a1a" stroke-width="1.1"/>
<path d="M253.4 736.8L242.5 741L244 732.5Z" fill="#ef9a1a"/>
<text x="257.5" y="742.5" font-size="15.5" text-anchor="start" fill="#ee9a1c" textLength="80.5" lengthAdjust="spacingAndGlyphs" >This study</text>
<clipPath id="cc"><rect x="547.75" y="502.5" width="271.04999999999995" height="270.5"/></clipPath>
<g fill="#e2e2e2" stroke="#9a9a9a" stroke-width="0.8"><rect x="626.3" y="599" width="5.10" height="174.00"/><rect x="650.25" y="706" width="6.25" height="67.00"/><rect x="656.5" y="716.5" width="5.00" height="56.50"/><rect x="676" y="719.25" width="5.50" height="53.75"/><rect x="681.5" y="731" width="5.00" height="42.00"/><rect x="706" y="750" width="4.80" height="23.00"/><rect x="715.7" y="756.7" width="5.00" height="16.30"/><rect x="730.7" y="766.6" width="4.90" height="6.40"/><rect x="740.6" y="760" width="5.00" height="13.00"/><rect x="764.5" y="769.6" width="5.00" height="3.40"/><rect x="779" y="770.5" width="5.00" height="2.50"/><rect x="750" y="768.5" width="4.00" height="4.50"/></g>
<g fill="#f6ef7a" stroke="#d8c850" stroke-width="0.6"><rect x="762.5" y="764.6" width="5.00" height="8.40"/><rect x="787.4" y="768.6" width="4.60" height="4.40"/><rect x="711.5" y="767" width="3.50" height="6.00"/><rect x="737" y="770" width="3.50" height="3.00"/><rect x="686.5" y="769.5" width="3.50" height="3.50"/><rect x="745.6" y="769.5" width="3.90" height="3.50"/><rect x="723" y="769" width="3.50" height="4.00"/><rect x="801" y="770.5" width="4.00" height="2.50"/></g>
<rect x="696" y="769.5" width="5" height="3.5" fill="#e8772a"/><rect x="668" y="770.5" width="4" height="2.5" fill="#e8772a"/>
<path d="M640.0 772.8L641.5 772.8L643.0 772.7L644.5 772.7L646.0 772.7L647.5 772.6L649.0 772.6L650.5 772.6L652.0 772.5L653.5 772.5L655.0 772.4L656.5 772.3L658.0 772.3L659.5 772.2L661.0 772.1L662.5 772.1L664.0 772.0L665.5 771.9L667.0 771.8L668.5 771.7L670.0 771.6L671.5 771.4L673.0 771.3L674.5 771.2L676.0 771.1L677.5 770.9L679.0 770.8L680.5 770.6L682.0 770.4L683.5 770.3L685.0 770.1L686.5 769.9L688.0 769.7L689.5 769.5L691.0 769.3L692.5 769.1L694.0 768.9L695.5 768.7L697.0 768.4L698.5 768.2L700.0 768.0L701.5 767.8L703.0 767.5L704.5 767.3L706.0 767.1L707.5 766.9L709.0 766.6L710.5 766.4L712.0 766.2L713.5 766.0L715.0 765.8L716.5 765.6L718.0 765.4L719.5 765.2L721.0 765.1L722.5 764.9L724.0 764.7L725.5 764.6L727.0 764.5L728.5 764.4L730.0 764.3L731.5 764.2L733.0 764.1L734.5 764.1L736.0 764.0L737.5 764.0L739.0 764.0L740.5 764.0L742.0 764.0L743.5 764.1L745.0 764.1L746.5 764.2L748.0 764.3L749.5 764.4L751.0 764.5L752.5 764.6L754.0 764.7L755.5 764.9L757.0 765.1L758.5 765.2L760.0 765.4L761.5 765.6L763.0 765.8L764.5 766.0L766.0 766.2L767.5 766.4L769.0 766.6L770.5 766.9L772.0 767.1L773.5 767.3L775.0 767.5L776.5 767.8L778.0 768.0L779.5 768.2L781.0 768.4L782.5 768.7L784.0 768.9L785.5 769.1L787.0 769.3L788.5 769.5L790.0 769.7L791.5 769.9L793.0 770.1L794.5 770.3L796.0 770.4L797.5 770.6L799.0 770.8L800.5 770.9L802.0 771.1L803.5 771.2L805.0 771.3L806.5 771.4L808.0 771.6L809.5 771.7L811.0 771.8L812.5 771.9L814.0 772.0L815.5 772.1L817.0 772.1" fill="none" stroke="#e8dc58" stroke-width="1.2" clip-path="url(#cc)"/>
<path d="M575.0 772.8L576.5 772.7L578.0 772.7L579.5 772.5L581.0 772.4L582.5 772.3L584.0 772.1L585.5 771.8L587.0 771.5L588.5 771.1L590.0 770.6L591.5 770.1L593.0 769.4L594.5 768.6L596.0 767.6L597.5 766.5L599.0 765.2L600.5 763.6L602.0 761.8L603.5 759.7L605.0 757.3L606.5 754.6L608.0 751.6L609.5 748.1L611.0 744.3L612.5 740.1L614.0 735.4L615.5 730.3L617.0 724.8L618.5 718.9L620.0 712.6L621.5 705.9L623.0 698.8L624.5 691.5L626.0 684.0L627.5 676.2L629.0 668.4L630.5 660.6L632.0 652.8L633.5 645.2L635.0 637.9L636.5 630.9L638.0 624.4L639.5 618.4L641.0 613.0L642.5 608.4L644.0 604.5L645.5 601.5L647.0 599.4L648.5 598.3L650.0 598.0L651.5 598.8L653.0 600.4L654.5 603.0L656.0 606.5L657.5 610.8L659.0 615.8L660.5 621.5L662.0 627.8L663.5 634.6L665.0 641.8L666.5 649.3L668.0 657.0L669.5 664.8L671.0 672.6L672.5 680.4L674.0 688.0L675.5 695.5L677.0 702.6L678.5 709.5L680.0 716.0L681.5 722.1L683.0 727.8L684.5 733.1L686.0 737.9L687.5 742.4L689.0 746.4L690.5 750.0L692.0 753.2L693.5 756.1L695.0 758.6L696.5 760.9L698.0 762.8L699.5 764.5L701.0 765.9L702.5 767.1L704.0 768.2L705.5 769.1L707.0 769.8L708.5 770.4L710.0 770.9L711.5 771.3L713.0 771.7L714.5 771.9L716.0 772.2L717.5 772.3L719.0 772.5L720.5 772.6L722.0 772.7L723.5 772.8L725.0 772.8" fill="none" stroke="#222" stroke-width="1.1"/>
<path d="M590.0 772.7L591.5 772.7L593.0 772.6L594.5 772.6L596.0 772.5L597.5 772.4L599.0 772.3L600.5 772.2L602.0 772.0L603.5 771.9L605.0 771.7L606.5 771.5L608.0 771.3L609.5 771.0L611.0 770.7L612.5 770.3L614.0 770.0L615.5 769.5L617.0 769.1L618.5 768.6L620.0 768.0L621.5 767.3L623.0 766.7L624.5 765.9L626.0 765.1L627.5 764.2L629.0 763.2L630.5 762.2L632.0 761.1L633.5 759.9L635.0 758.6L636.5 757.3L638.0 755.9L639.5 754.4L641.0 752.9L642.5 751.3L644.0 749.6L645.5 747.9L647.0 746.1L648.5 744.3L650.0 742.5L651.5 740.6L653.0 738.7L654.5 736.9L656.0 735.0L657.5 733.2L659.0 731.4L660.5 729.6L662.0 727.9L663.5 726.3L665.0 724.8L666.5 723.4L668.0 722.0L669.5 720.8L671.0 719.8L672.5 718.8L674.0 718.1L675.5 717.4L677.0 717.0L678.5 716.6L680.0 716.5L681.5 716.5L683.0 716.7L684.5 717.1L686.0 717.6L687.5 718.3L689.0 719.1L690.5 720.1L692.0 721.2L693.5 722.5L695.0 723.8L696.5 725.3L698.0 726.9L699.5 728.5L701.0 730.2L702.5 732.0L704.0 733.8L705.5 735.6L707.0 737.5L708.5 739.4L710.0 741.2L711.5 743.1L713.0 744.9L714.5 746.7L716.0 748.4L717.5 750.1L719.0 751.8L720.5 753.4L722.0 754.9L723.5 756.4L725.0 757.7L726.5 759.1L728.0 760.3L729.5 761.4L731.0 762.5L732.5 763.5L734.0 764.5L735.5 765.4L737.0 766.2L738.5 766.9L740.0 767.6L741.5 768.2L743.0 768.7L744.5 769.2L746.0 769.7L747.5 770.1L749.0 770.5L750.5 770.8L752.0 771.1L753.5 771.3L755.0 771.6L756.5 771.8L758.0 771.9L759.5 772.1L761.0 772.2L762.5 772.3L764.0 772.4L765.5 772.5L767.0 772.6L768.5 772.7L770.0 772.7L771.5 772.8L773.0 772.8L774.5 772.8" fill="none" stroke="#222" stroke-width="1.1"/>
<path d="M665.0 773.0L666.5 773.0L668.0 773.0L669.5 773.0L671.0 772.9L672.5 772.9L674.0 772.9L675.5 772.8L677.0 772.8L678.5 772.7L680.0 772.6L681.5 772.5L683.0 772.3L684.5 772.1L686.0 771.9L687.5 771.6L689.0 771.2L690.5 770.8L692.0 770.3L693.5 769.7L695.0 769.0L696.5 768.3L698.0 767.5L699.5 766.5L701.0 765.6L702.5 764.5L704.0 763.4L705.5 762.2L707.0 761.1L708.5 759.9L710.0 758.8L711.5 757.7L713.0 756.7L714.5 755.8L716.0 755.0L717.5 754.4L719.0 754.0L720.5 753.8L722.0 753.7L723.5 753.8L725.0 754.2L726.5 754.7L728.0 755.3L729.5 756.1L731.0 757.1L732.5 758.1L734.0 759.2L735.5 760.4L737.0 761.5L738.5 762.7L740.0 763.8L741.5 764.9L743.0 766.0L744.5 766.9L746.0 767.8L747.5 768.6L749.0 769.3L750.5 769.9L752.0 770.5L753.5 771.0L755.0 771.4L756.5 771.7L758.0 772.0L759.5 772.2L761.0 772.4L762.5 772.5L764.0 772.6L765.5 772.7L767.0 772.8L768.5 772.9L770.0 772.9L771.5 772.9L773.0 772.9L774.5 773.0L776.0 773.0L777.5 773.0" fill="none" stroke="#222" stroke-width="1.1"/>
<rect x="547.75" y="502.5" width="271.04999999999995" height="270.5" fill="none" stroke="#222" stroke-width="1.5"/>
<path d="M547.75 502.5V773H818.8" fill="none" stroke="#222" stroke-width="2"/>
<line x1="547.75" y1="711.50" x2="550.75" y2="711.50" stroke="#222" stroke-width="1.1"/>
<text x="546.8" y="716.4" font-size="13.2" text-anchor="end" fill="#222" textLength="23.4" lengthAdjust="spacingAndGlyphs" >100</text>
<line x1="547.75" y1="650.00" x2="550.75" y2="650.00" stroke="#222" stroke-width="1.1"/>
<text x="546.8" y="654.9" font-size="13.2" text-anchor="end" fill="#222" textLength="23.4" lengthAdjust="spacingAndGlyphs" >200</text>
<line x1="547.75" y1="588.50" x2="550.75" y2="588.50" stroke="#222" stroke-width="1.1"/>
<text x="546.8" y="593.4" font-size="13.2" text-anchor="end" fill="#222" textLength="23.4" lengthAdjust="spacingAndGlyphs" >300</text>
<text x="542" y="778.2" font-size="13.2" text-anchor="end" fill="#222" >0</text>
<line x1="572.75" y1="773" x2="572.75" y2="776.2" stroke="#222" stroke-width="1.1"/>
<line x1="621.87" y1="773" x2="621.87" y2="776.2" stroke="#222" stroke-width="1.1"/>
<line x1="670.99" y1="773" x2="670.99" y2="776.2" stroke="#222" stroke-width="1.1"/>
<line x1="720.11" y1="773" x2="720.11" y2="776.2" stroke="#222" stroke-width="1.1"/>
<line x1="769.23" y1="773" x2="769.23" y2="776.2" stroke="#222" stroke-width="1.1"/>
<text x="575" y="791.2" font-size="13" text-anchor="middle" fill="#222" textLength="30.5" lengthAdjust="spacingAndGlyphs" >2400</text>
<text x="623.4" y="790.2" font-size="13" text-anchor="middle" fill="#222" textLength="30.5" lengthAdjust="spacingAndGlyphs" >2600</text>
<text x="673" y="790.2" font-size="13" text-anchor="middle" fill="#222" textLength="30.5" lengthAdjust="spacingAndGlyphs" >2800</text>
<text x="721.3" y="790.2" font-size="13" text-anchor="middle" fill="#222" textLength="30.5" lengthAdjust="spacingAndGlyphs" >3000</text>
<text x="772.2" y="790.2" font-size="13" text-anchor="middle" fill="#222" textLength="30.5" lengthAdjust="spacingAndGlyphs" >3200</text>
<text x="808.8" y="790.2" font-size="13" text-anchor="middle" fill="#222" textLength="30.5" lengthAdjust="spacingAndGlyphs" >3400</text>
<text transform="translate(516.8,662.5) rotate(-90)" font-size="20.5" fill="#111" textLength="57.5" lengthAdjust="spacingAndGlyphs">Count</text>
<text x="664.4" y="817.4" font-size="21.5" fill="#111" textLength="94" lengthAdjust="spacingAndGlyphs"><tspan font-style="italic">T</tspan><tspan font-size="14.5">DM2</tspan> ( Ma)</text>
<text x="560" y="531" font-size="17.5" text-anchor="start" fill="#222" textLength="27" lengthAdjust="spacingAndGlyphs" >( c)</text>
<text x="566.2" y="621.2" font-size="12" text-anchor="start" fill="#2e2f8f" font-weight="bold" textLength="29.3" lengthAdjust="spacingAndGlyphs" >NCC</text>
<text x="675.5" y="633.4" font-size="13.2" fill="#222" textLength="117.2" lengthAdjust="spacingAndGlyphs"><tspan font-style="italic">T</tspan><tspan font-size="9.6">DM2</tspan> (2.5 Ga TTG)</text>
<text x="690.6" y="676.5" font-size="13.2" fill="#222" textLength="116.6" lengthAdjust="spacingAndGlyphs"><tspan font-style="italic">T</tspan><tspan font-size="9.6">DM2</tspan> (2.7 Ga TTG)</text>
<text x="703.4" y="714.9" font-size="13.2" fill="#222" textLength="115.2" lengthAdjust="spacingAndGlyphs"><tspan font-style="italic">T</tspan><tspan font-size="9.6">DM2</tspan> (2.9 Ga TTG)</text>
<path d="M669 659C671 655 674 656 676.5 654C678.5 652 673.5 650.5 675 648L676 643" fill="none" stroke="#a6a6a0" stroke-width="1"/>
<path d="M675.2 632.5L679.8 644.2L670.6 644.2Z" fill="#a6a6a0"/>
<path d="M681 716C683 712 687 713 689.5 710.5C691.5 708 687.5 706.5 689.5 703L691.5 692" fill="none" stroke="#a6a6a0" stroke-width="1"/>
<path d="M691.7 681.2L696.3 692.5L687 692.5Z" fill="#a6a6a0"/>
<path d="M723.7 751.7C726 747 729.5 745 729 742C728.5 739.5 726 738.5 727.5 736C729 733.5 730.5 731 731 727" fill="none" stroke="#a6a6a0" stroke-width="1"/>
<path d="M731.8 719.5L736 727.8L727 727.8Z" fill="#a6a6a0"/>
<path d="M768.5 766.6C770 763.5 772.5 763 773 761C773.5 759 771 758 772.5 756.5L775 756" fill="none" stroke="#e8801a" stroke-width="1.1"/>
<path d="M777.5 748.2L780.5 757.5L771.3 757Z" fill="#e8801a"/>
<text x="736.6" y="742" font-size="16" text-anchor="start" fill="#ea8f2c" textLength="78.7" lengthAdjust="spacingAndGlyphs" >This study</text>
<text x="794.4" y="761.3" font-size="16" text-anchor="start" fill="#ea8f2c" textLength="20.6" lengthAdjust="spacingAndGlyphs" >(d)</text>
<rect x="648.4" y="505.6" width="169.30000000000007" height="75.39999999999998" fill="#fff" stroke="#222" stroke-width="1.25"/>
<linearGradient id="og" x1="0" x2="1" y1="0" y2="0"><stop offset="0" stop-color="#ec8f3c"/><stop offset="0.55" stop-color="#f5bd8a"/><stop offset="1" stop-color="#fdf3ea"/></linearGradient>
<g fill="url(#og)" stroke="#5a4632" stroke-width="0.7">
<rect x="717.10" y="560.51" width="7.77" height="20.49"/>
<rect x="724.87" y="567.34" width="7.77" height="13.66"/>
<rect x="732.64" y="560.51" width="7.77" height="20.49"/>
<rect x="740.41" y="526.36" width="7.77" height="54.64"/>
<rect x="748.18" y="519.53" width="7.77" height="61.47"/>
<rect x="755.95" y="526.36" width="7.77" height="54.64"/>
<rect x="763.72" y="553.68" width="7.77" height="27.32"/>
<rect x="771.49" y="526.36" width="7.77" height="54.64"/>
<rect x="779.26" y="526.36" width="7.77" height="54.64"/>
<rect x="787.03" y="540.02" width="7.77" height="40.98"/>
<rect x="794.80" y="560.51" width="7.77" height="20.49"/>
<rect x="802.57" y="567.34" width="7.77" height="13.66"/>
<rect x="810.34" y="574.17" width="7.77" height="6.83"/>
</g>
<rect x="648.4" y="574.3" width="8" height="6.7" fill="#e27a22" stroke="#5a4632" stroke-width="0.6"/>
<path d="M648.4 577.9L652.4 577.4L655.9 577.9L665.3 580.0L677.1 580.9L695.9 580.8L703.0 579.3L707.7 577.4L712.4 573.9L717.1 569.2L724.2 560.9L728.9 552.0L733.6 542.1L737.1 534.6L740.7 528.0L744.2 522.8L747.7 519.7L752.4 518.5L758.3 520.4L761.9 522.3L765.4 523.7L771.3 524.4L778.3 525.6L781.9 528.0L785.4 531.5L788.9 536.4L792.5 542.1L796.0 548.2L799.5 553.9L804.2 560.2L808.9 565.6L813.7 570.8L817.7 575.1" fill="none" stroke="#222" stroke-width="1" stroke-linejoin="round"/>
<rect x="648.4" y="505.6" width="169.30000000000007" height="75.39999999999998" fill="none" stroke="#222" stroke-width="1.25"/>
<text x="646.3" y="529.0999999999999" font-size="7.5" text-anchor="end" fill="#222" >8</text>
<line x1="646.4" y1="526.3" x2="648.4" y2="526.3" stroke="#222" stroke-width="0.8"/>
<text x="646.3" y="556.1999999999999" font-size="7.5" text-anchor="end" fill="#222" >4</text>
<line x1="646.4" y1="553.4" x2="648.4" y2="553.4" stroke="#222" stroke-width="0.8"/>
<text x="646.3" y="583.0" font-size="7.5" text-anchor="end" fill="#222" >0</text>
<line x1="646.4" y1="580.2" x2="648.4" y2="580.2" stroke="#222" stroke-width="0.8"/>
<text x="668.9" y="591" font-size="10.3" text-anchor="middle" fill="#222" textLength="23.5" lengthAdjust="spacingAndGlyphs" >2400</text>
<text x="724.2" y="591" font-size="10.3" text-anchor="middle" fill="#222" textLength="23.5" lengthAdjust="spacingAndGlyphs" >2800</text>
<text x="788.2" y="591" font-size="10.3" text-anchor="middle" fill="#222" textLength="23.5" lengthAdjust="spacingAndGlyphs" >3200</text>
<text transform="translate(638.5,561.5) rotate(-90)" font-size="10" fill="#222" textLength="27" lengthAdjust="spacingAndGlyphs">Count</text>
<text x="685.8" y="517.4" font-size="10.2" fill="#222" textLength="128" lengthAdjust="spacingAndGlyphs"><tspan font-style="italic">T</tspan>DM2 (2.3 Ga) in this study</text>
<text x="650.7" y="528" font-size="17.5" text-anchor="start" fill="#222" textLength="26.3" lengthAdjust="spacingAndGlyphs" >(d)</text>
</svg>
</body></html>
